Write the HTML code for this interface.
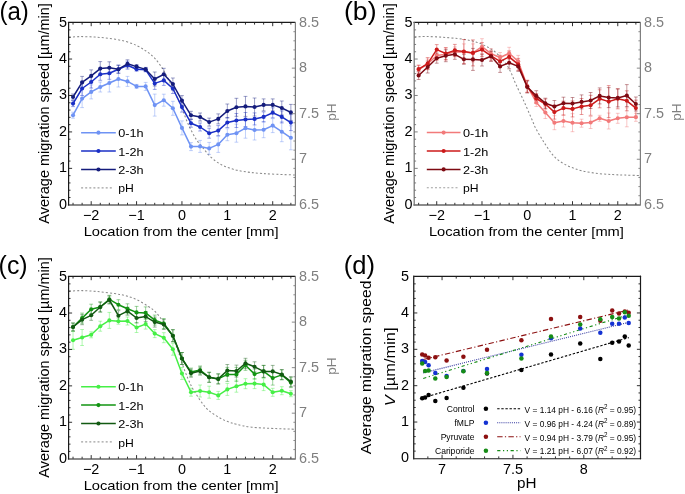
<!DOCTYPE html><html><head><meta charset="utf-8"><style>html,body{margin:0;padding:0;background:#fff;}svg{display:block;will-change:transform;}text{font-family:"Liberation Sans", sans-serif;}</style></head><body>
<svg width="685" height="494" viewBox="0 0 685 494">
<rect width="685" height="494" fill="#fff"/>
<path d="M69,37.4 C70.83,37.27 75.67,36.65 80,36.6 C84.33,36.55 90,36.78 95,37.1 C100,37.42 105,37.8 110,38.5 C115,39.2 120.5,40.1 125,41.3 C129.5,42.5 133.5,44.08 137,45.7 C140.5,47.32 143.17,49.03 146,51 C148.83,52.97 151.5,54.95 154,57.5 C156.5,60.05 158.75,62.97 161,66.3 C163.25,69.63 165.33,73.38 167.5,77.5 C169.67,81.62 171.75,86.33 174,91 C176.25,95.67 179.17,101.28 181,105.5 C182.83,109.72 183.75,113.07 185,116.3 C186.25,119.53 187.2,122.05 188.5,124.9 C189.8,127.75 191.38,130.8 192.8,133.4 C194.22,136 195.35,138.13 197,140.5 C198.65,142.87 200.8,145.25 202.7,147.6 C204.6,149.95 206.27,152.37 208.4,154.6 C210.53,156.83 213.13,159.22 215.5,161 C217.87,162.78 220.25,164.12 222.6,165.3 C224.95,166.48 227,167.23 229.6,168.1 C232.2,168.97 234.8,169.78 238.2,170.5 C241.6,171.22 246.03,171.9 250,172.4 C253.97,172.9 257.5,173.18 262,173.5 C266.5,173.82 271.5,174.05 277,174.3 C282.5,174.55 292,174.88 295,175" fill="none" stroke="#8a8a8a" stroke-width="1.05" stroke-dasharray="2,2.1"/>
<path d="M73.04,112.2V118.2M71.14,112.2H74.94M71.14,118.2H74.94M82.11,89.6V107.6M80.21,89.6H84.01M80.21,107.6H84.01M91.19,84.9V98.9M89.29,84.9H93.09M89.29,98.9H93.09M100.27,82V92M98.37,82H102.17M98.37,92H102.17M109.34,74V92M107.44,74H111.24M107.44,92H111.24M118.42,71V87M116.52,71H120.32M116.52,87H120.32M127.49,76.4V86.4M125.59,76.4H129.39M125.59,86.4H129.39M136.57,84.4V88.4M134.67,84.4H138.47M134.67,88.4H138.47M145.65,82.4V90.4M143.75,82.4H147.55M143.75,90.4H147.55M154.72,94.1V116.1M152.82,94.1H156.62M152.82,116.1H156.62M163.8,94.2V106.2M161.9,94.2H165.7M161.9,106.2H165.7M172.87,101.3V115.3M170.97,101.3H174.77M170.97,115.3H174.77M181.95,120.9V134.9M180.05,120.9H183.85M180.05,134.9H183.85M191.03,142.6V150.6M189.13,142.6H192.93M189.13,150.6H192.93M200.1,140.4V152.4M198.2,140.4H202M198.2,152.4H202M209.18,142.4V154.4M207.28,142.4H211.08M207.28,154.4H211.08M218.25,136.4V152.4M216.35,136.4H220.15M216.35,152.4H220.15M227.33,128.7V140.7M225.43,128.7H229.23M225.43,140.7H229.23M236.41,124.2V142.2M234.51,124.2H238.31M234.51,142.2H238.31M245.48,118.2V138.2M243.58,118.2H247.38M243.58,138.2H247.38M254.56,120V140M252.66,120H256.46M252.66,140H256.46M263.63,121.7V137.7M261.73,121.7H265.53M261.73,137.7H265.53M272.71,118.6V132.6M270.81,118.6H274.61M270.81,132.6H274.61M281.79,121.7V141.7M279.89,121.7H283.69M279.89,141.7H283.69M290.86,125.8V149.8M288.96,125.8H292.76M288.96,149.8H292.76" stroke="#6f93f4" stroke-opacity="0.5" stroke-width="0.85" fill="none"/>
<path d="M73.04,100.6V106.6M71.14,100.6H74.94M71.14,106.6H74.94M82.11,81.5V95.5M80.21,81.5H84.01M80.21,95.5H84.01M91.19,76V88M89.29,76H93.09M89.29,88H93.09M100.27,68.3V80.3M98.37,68.3H102.17M98.37,80.3H102.17M109.34,67.3V79.3M107.44,67.3H111.24M107.44,79.3H111.24M118.42,65.2V73.2M116.52,65.2H120.32M116.52,73.2H120.32M127.49,61.2V69.2M125.59,61.2H129.39M125.59,69.2H129.39M136.57,67.2V71.2M134.67,67.2H138.47M134.67,71.2H138.47M145.65,67.8V71.8M143.75,67.8H147.55M143.75,71.8H147.55M154.72,77.4V89.4M152.82,77.4H156.62M152.82,89.4H156.62M163.8,75.4V85.4M161.9,75.4H165.7M161.9,85.4H165.7M172.87,83.5V93.5M170.97,83.5H174.77M170.97,93.5H174.77M181.95,102.1V112.1M180.05,102.1H183.85M180.05,112.1H183.85M191.03,119.2V127.2M189.13,119.2H192.93M189.13,127.2H192.93M200.1,123V131M198.2,123H202M198.2,131H202M209.18,128.2V138.2M207.28,128.2H211.08M207.28,138.2H211.08M218.25,125.6V135.6M216.35,125.6H220.15M216.35,135.6H220.15M227.33,117.5V127.5M225.43,117.5H229.23M225.43,127.5H229.23M236.41,113.5V127.5M234.51,113.5H238.31M234.51,127.5H238.31M245.48,112.5V126.5M243.58,112.5H247.38M243.58,126.5H247.38M254.56,112.9V124.9M252.66,112.9H256.46M252.66,124.9H256.46M263.63,111.9V121.9M261.73,111.9H265.53M261.73,121.9H265.53M272.71,107.8V117.8M270.81,107.8H274.61M270.81,117.8H274.61M281.79,110.9V122.9M279.89,110.9H283.69M279.89,122.9H283.69M290.86,114.6V130.6M288.96,114.6H292.76M288.96,130.6H292.76" stroke="#1a2fc6" stroke-opacity="0.5" stroke-width="0.85" fill="none"/>
<path d="M73.04,94V100M71.14,94H74.94M71.14,100H74.94M82.11,76.4V88.4M80.21,76.4H84.01M80.21,88.4H84.01M91.19,69.9V81.9M89.29,69.9H93.09M89.29,81.9H93.09M100.27,61.6V75.6M98.37,61.6H102.17M98.37,75.6H102.17M109.34,61.8V73.8M107.44,61.8H111.24M107.44,73.8H111.24M118.42,65.2V73.2M116.52,65.2H120.32M116.52,73.2H120.32M127.49,59.8V67.8M125.59,59.8H129.39M125.59,67.8H129.39M136.57,64.6V68.6M134.67,64.6H138.47M134.67,68.6H138.47M145.65,67.4V71.4M143.75,67.4H147.55M143.75,71.4H147.55M154.72,72V86M152.82,72H156.62M152.82,86H156.62M163.8,68.3V80.3M161.9,68.3H165.7M161.9,80.3H165.7M172.87,78V90M170.97,78H174.77M170.97,90H174.77M181.95,95.6V105.6M180.05,95.6H183.85M180.05,105.6H183.85M191.03,111.3V119.3M189.13,111.3H192.93M189.13,119.3H192.93M200.1,113V121M198.2,113H202M198.2,121H202M209.18,118.1V126.1M207.28,118.1H211.08M207.28,126.1H211.08M218.25,113.9V123.9M216.35,113.9H220.15M216.35,123.9H220.15M227.33,104V118M225.43,104H229.23M225.43,118H229.23M236.41,98.3V116.3M234.51,98.3H238.31M234.51,116.3H238.31M245.48,96.4V116.4M243.58,96.4H247.38M243.58,116.4H247.38M254.56,98V116M252.66,98H256.46M252.66,116H256.46M263.63,98.9V110.9M261.73,98.9H265.53M261.73,110.9H265.53M272.71,98.9V110.9M270.81,98.9H274.61M270.81,110.9H274.61M281.79,101V115M279.89,101H283.69M279.89,115H283.69M290.86,104.4V120.4M288.96,104.4H292.76M288.96,120.4H292.76" stroke="#141c7c" stroke-opacity="0.5" stroke-width="0.85" fill="none"/>
<polyline points="73.04,115.2 82.11,98.6 91.19,91.9 100.27,87 109.34,83 118.42,79 127.49,81.4 136.57,86.4 145.65,86.4 154.72,105.1 163.8,100.2 172.87,108.3 181.95,127.9 191.03,146.6 200.1,146.4 209.18,148.4 218.25,144.4 227.33,134.7 236.41,133.2 245.48,128.2 254.56,130 263.63,129.7 272.71,125.6 281.79,131.7 290.86,137.8" fill="none" stroke="#6f93f4" stroke-width="1.5" stroke-linejoin="round"/>
<circle cx="73.04" cy="115.2" r="2.05" fill="#6f93f4"/>
<circle cx="82.11" cy="98.6" r="2.05" fill="#6f93f4"/>
<circle cx="91.19" cy="91.9" r="2.05" fill="#6f93f4"/>
<circle cx="100.27" cy="87" r="2.05" fill="#6f93f4"/>
<circle cx="109.34" cy="83" r="2.05" fill="#6f93f4"/>
<circle cx="118.42" cy="79" r="2.05" fill="#6f93f4"/>
<circle cx="127.49" cy="81.4" r="2.05" fill="#6f93f4"/>
<circle cx="136.57" cy="86.4" r="2.05" fill="#6f93f4"/>
<circle cx="145.65" cy="86.4" r="2.05" fill="#6f93f4"/>
<circle cx="154.72" cy="105.1" r="2.05" fill="#6f93f4"/>
<circle cx="163.8" cy="100.2" r="2.05" fill="#6f93f4"/>
<circle cx="172.87" cy="108.3" r="2.05" fill="#6f93f4"/>
<circle cx="181.95" cy="127.9" r="2.05" fill="#6f93f4"/>
<circle cx="191.03" cy="146.6" r="2.05" fill="#6f93f4"/>
<circle cx="200.1" cy="146.4" r="2.05" fill="#6f93f4"/>
<circle cx="209.18" cy="148.4" r="2.05" fill="#6f93f4"/>
<circle cx="218.25" cy="144.4" r="2.05" fill="#6f93f4"/>
<circle cx="227.33" cy="134.7" r="2.05" fill="#6f93f4"/>
<circle cx="236.41" cy="133.2" r="2.05" fill="#6f93f4"/>
<circle cx="245.48" cy="128.2" r="2.05" fill="#6f93f4"/>
<circle cx="254.56" cy="130" r="2.05" fill="#6f93f4"/>
<circle cx="263.63" cy="129.7" r="2.05" fill="#6f93f4"/>
<circle cx="272.71" cy="125.6" r="2.05" fill="#6f93f4"/>
<circle cx="281.79" cy="131.7" r="2.05" fill="#6f93f4"/>
<circle cx="290.86" cy="137.8" r="2.05" fill="#6f93f4"/>
<polyline points="73.04,103.6 82.11,88.5 91.19,82 100.27,74.3 109.34,73.3 118.42,69.2 127.49,65.2 136.57,69.2 145.65,69.8 154.72,83.4 163.8,80.4 172.87,88.5 181.95,107.1 191.03,123.2 200.1,127 209.18,133.2 218.25,130.6 227.33,122.5 236.41,120.5 245.48,119.5 254.56,118.9 263.63,116.9 272.71,112.8 281.79,116.9 290.86,122.6" fill="none" stroke="#1a2fc6" stroke-width="1.5" stroke-linejoin="round"/>
<circle cx="73.04" cy="103.6" r="2.05" fill="#1a2fc6"/>
<circle cx="82.11" cy="88.5" r="2.05" fill="#1a2fc6"/>
<circle cx="91.19" cy="82" r="2.05" fill="#1a2fc6"/>
<circle cx="100.27" cy="74.3" r="2.05" fill="#1a2fc6"/>
<circle cx="109.34" cy="73.3" r="2.05" fill="#1a2fc6"/>
<circle cx="118.42" cy="69.2" r="2.05" fill="#1a2fc6"/>
<circle cx="127.49" cy="65.2" r="2.05" fill="#1a2fc6"/>
<circle cx="136.57" cy="69.2" r="2.05" fill="#1a2fc6"/>
<circle cx="145.65" cy="69.8" r="2.05" fill="#1a2fc6"/>
<circle cx="154.72" cy="83.4" r="2.05" fill="#1a2fc6"/>
<circle cx="163.8" cy="80.4" r="2.05" fill="#1a2fc6"/>
<circle cx="172.87" cy="88.5" r="2.05" fill="#1a2fc6"/>
<circle cx="181.95" cy="107.1" r="2.05" fill="#1a2fc6"/>
<circle cx="191.03" cy="123.2" r="2.05" fill="#1a2fc6"/>
<circle cx="200.1" cy="127" r="2.05" fill="#1a2fc6"/>
<circle cx="209.18" cy="133.2" r="2.05" fill="#1a2fc6"/>
<circle cx="218.25" cy="130.6" r="2.05" fill="#1a2fc6"/>
<circle cx="227.33" cy="122.5" r="2.05" fill="#1a2fc6"/>
<circle cx="236.41" cy="120.5" r="2.05" fill="#1a2fc6"/>
<circle cx="245.48" cy="119.5" r="2.05" fill="#1a2fc6"/>
<circle cx="254.56" cy="118.9" r="2.05" fill="#1a2fc6"/>
<circle cx="263.63" cy="116.9" r="2.05" fill="#1a2fc6"/>
<circle cx="272.71" cy="112.8" r="2.05" fill="#1a2fc6"/>
<circle cx="281.79" cy="116.9" r="2.05" fill="#1a2fc6"/>
<circle cx="290.86" cy="122.6" r="2.05" fill="#1a2fc6"/>
<polyline points="73.04,97 82.11,82.4 91.19,75.9 100.27,68.6 109.34,67.8 118.42,69.2 127.49,63.8 136.57,66.6 145.65,69.4 154.72,79 163.8,74.3 172.87,84 181.95,100.6 191.03,115.3 200.1,117 209.18,122.1 218.25,118.9 227.33,111 236.41,107.3 245.48,106.4 254.56,107 263.63,104.9 272.71,104.9 281.79,108 290.86,112.4" fill="none" stroke="#141c7c" stroke-width="1.5" stroke-linejoin="round"/>
<circle cx="73.04" cy="97" r="2.05" fill="#141c7c"/>
<circle cx="82.11" cy="82.4" r="2.05" fill="#141c7c"/>
<circle cx="91.19" cy="75.9" r="2.05" fill="#141c7c"/>
<circle cx="100.27" cy="68.6" r="2.05" fill="#141c7c"/>
<circle cx="109.34" cy="67.8" r="2.05" fill="#141c7c"/>
<circle cx="118.42" cy="69.2" r="2.05" fill="#141c7c"/>
<circle cx="127.49" cy="63.8" r="2.05" fill="#141c7c"/>
<circle cx="136.57" cy="66.6" r="2.05" fill="#141c7c"/>
<circle cx="145.65" cy="69.4" r="2.05" fill="#141c7c"/>
<circle cx="154.72" cy="79" r="2.05" fill="#141c7c"/>
<circle cx="163.8" cy="74.3" r="2.05" fill="#141c7c"/>
<circle cx="172.87" cy="84" r="2.05" fill="#141c7c"/>
<circle cx="181.95" cy="100.6" r="2.05" fill="#141c7c"/>
<circle cx="191.03" cy="115.3" r="2.05" fill="#141c7c"/>
<circle cx="200.1" cy="117" r="2.05" fill="#141c7c"/>
<circle cx="209.18" cy="122.1" r="2.05" fill="#141c7c"/>
<circle cx="218.25" cy="118.9" r="2.05" fill="#141c7c"/>
<circle cx="227.33" cy="111" r="2.05" fill="#141c7c"/>
<circle cx="236.41" cy="107.3" r="2.05" fill="#141c7c"/>
<circle cx="245.48" cy="106.4" r="2.05" fill="#141c7c"/>
<circle cx="254.56" cy="107" r="2.05" fill="#141c7c"/>
<circle cx="263.63" cy="104.9" r="2.05" fill="#141c7c"/>
<circle cx="272.71" cy="104.9" r="2.05" fill="#141c7c"/>
<circle cx="281.79" cy="108" r="2.05" fill="#141c7c"/>
<circle cx="290.86" cy="112.4" r="2.05" fill="#141c7c"/>
<line x1="73.04" y1="204.8" x2="73.04" y2="202.8" stroke="#1a1a1a" stroke-width="0.9"/>
<line x1="73.04" y1="22.6" x2="73.04" y2="24.6" stroke="#1a1a1a" stroke-width="0.9"/>
<line x1="82.11" y1="204.8" x2="82.11" y2="202.8" stroke="#1a1a1a" stroke-width="0.9"/>
<line x1="82.11" y1="22.6" x2="82.11" y2="24.6" stroke="#1a1a1a" stroke-width="0.9"/>
<line x1="91.19" y1="204.8" x2="91.19" y2="201.2" stroke="#1a1a1a" stroke-width="0.9"/>
<line x1="91.19" y1="22.6" x2="91.19" y2="26.2" stroke="#1a1a1a" stroke-width="0.9"/>
<line x1="100.27" y1="204.8" x2="100.27" y2="202.8" stroke="#1a1a1a" stroke-width="0.9"/>
<line x1="100.27" y1="22.6" x2="100.27" y2="24.6" stroke="#1a1a1a" stroke-width="0.9"/>
<line x1="109.34" y1="204.8" x2="109.34" y2="202.8" stroke="#1a1a1a" stroke-width="0.9"/>
<line x1="109.34" y1="22.6" x2="109.34" y2="24.6" stroke="#1a1a1a" stroke-width="0.9"/>
<line x1="118.42" y1="204.8" x2="118.42" y2="202.8" stroke="#1a1a1a" stroke-width="0.9"/>
<line x1="118.42" y1="22.6" x2="118.42" y2="24.6" stroke="#1a1a1a" stroke-width="0.9"/>
<line x1="127.49" y1="204.8" x2="127.49" y2="202.8" stroke="#1a1a1a" stroke-width="0.9"/>
<line x1="127.49" y1="22.6" x2="127.49" y2="24.6" stroke="#1a1a1a" stroke-width="0.9"/>
<line x1="136.57" y1="204.8" x2="136.57" y2="201.2" stroke="#1a1a1a" stroke-width="0.9"/>
<line x1="136.57" y1="22.6" x2="136.57" y2="26.2" stroke="#1a1a1a" stroke-width="0.9"/>
<line x1="145.65" y1="204.8" x2="145.65" y2="202.8" stroke="#1a1a1a" stroke-width="0.9"/>
<line x1="145.65" y1="22.6" x2="145.65" y2="24.6" stroke="#1a1a1a" stroke-width="0.9"/>
<line x1="154.72" y1="204.8" x2="154.72" y2="202.8" stroke="#1a1a1a" stroke-width="0.9"/>
<line x1="154.72" y1="22.6" x2="154.72" y2="24.6" stroke="#1a1a1a" stroke-width="0.9"/>
<line x1="163.8" y1="204.8" x2="163.8" y2="202.8" stroke="#1a1a1a" stroke-width="0.9"/>
<line x1="163.8" y1="22.6" x2="163.8" y2="24.6" stroke="#1a1a1a" stroke-width="0.9"/>
<line x1="172.87" y1="204.8" x2="172.87" y2="202.8" stroke="#1a1a1a" stroke-width="0.9"/>
<line x1="172.87" y1="22.6" x2="172.87" y2="24.6" stroke="#1a1a1a" stroke-width="0.9"/>
<line x1="181.95" y1="204.8" x2="181.95" y2="201.2" stroke="#1a1a1a" stroke-width="0.9"/>
<line x1="181.95" y1="22.6" x2="181.95" y2="26.2" stroke="#1a1a1a" stroke-width="0.9"/>
<line x1="191.03" y1="204.8" x2="191.03" y2="202.8" stroke="#1a1a1a" stroke-width="0.9"/>
<line x1="191.03" y1="22.6" x2="191.03" y2="24.6" stroke="#1a1a1a" stroke-width="0.9"/>
<line x1="200.1" y1="204.8" x2="200.1" y2="202.8" stroke="#1a1a1a" stroke-width="0.9"/>
<line x1="200.1" y1="22.6" x2="200.1" y2="24.6" stroke="#1a1a1a" stroke-width="0.9"/>
<line x1="209.18" y1="204.8" x2="209.18" y2="202.8" stroke="#1a1a1a" stroke-width="0.9"/>
<line x1="209.18" y1="22.6" x2="209.18" y2="24.6" stroke="#1a1a1a" stroke-width="0.9"/>
<line x1="218.25" y1="204.8" x2="218.25" y2="202.8" stroke="#1a1a1a" stroke-width="0.9"/>
<line x1="218.25" y1="22.6" x2="218.25" y2="24.6" stroke="#1a1a1a" stroke-width="0.9"/>
<line x1="227.33" y1="204.8" x2="227.33" y2="201.2" stroke="#1a1a1a" stroke-width="0.9"/>
<line x1="227.33" y1="22.6" x2="227.33" y2="26.2" stroke="#1a1a1a" stroke-width="0.9"/>
<line x1="236.41" y1="204.8" x2="236.41" y2="202.8" stroke="#1a1a1a" stroke-width="0.9"/>
<line x1="236.41" y1="22.6" x2="236.41" y2="24.6" stroke="#1a1a1a" stroke-width="0.9"/>
<line x1="245.48" y1="204.8" x2="245.48" y2="202.8" stroke="#1a1a1a" stroke-width="0.9"/>
<line x1="245.48" y1="22.6" x2="245.48" y2="24.6" stroke="#1a1a1a" stroke-width="0.9"/>
<line x1="254.56" y1="204.8" x2="254.56" y2="202.8" stroke="#1a1a1a" stroke-width="0.9"/>
<line x1="254.56" y1="22.6" x2="254.56" y2="24.6" stroke="#1a1a1a" stroke-width="0.9"/>
<line x1="263.63" y1="204.8" x2="263.63" y2="202.8" stroke="#1a1a1a" stroke-width="0.9"/>
<line x1="263.63" y1="22.6" x2="263.63" y2="24.6" stroke="#1a1a1a" stroke-width="0.9"/>
<line x1="272.71" y1="204.8" x2="272.71" y2="201.2" stroke="#1a1a1a" stroke-width="0.9"/>
<line x1="272.71" y1="22.6" x2="272.71" y2="26.2" stroke="#1a1a1a" stroke-width="0.9"/>
<line x1="281.79" y1="204.8" x2="281.79" y2="202.8" stroke="#1a1a1a" stroke-width="0.9"/>
<line x1="281.79" y1="22.6" x2="281.79" y2="24.6" stroke="#1a1a1a" stroke-width="0.9"/>
<line x1="290.86" y1="204.8" x2="290.86" y2="202.8" stroke="#1a1a1a" stroke-width="0.9"/>
<line x1="290.86" y1="22.6" x2="290.86" y2="24.6" stroke="#1a1a1a" stroke-width="0.9"/>
<line x1="68.5" y1="197.51" x2="70.5" y2="197.51" stroke="#1a1a1a" stroke-width="0.9"/>
<line x1="68.5" y1="190.22" x2="70.5" y2="190.22" stroke="#1a1a1a" stroke-width="0.9"/>
<line x1="68.5" y1="182.94" x2="70.5" y2="182.94" stroke="#1a1a1a" stroke-width="0.9"/>
<line x1="68.5" y1="175.65" x2="70.5" y2="175.65" stroke="#1a1a1a" stroke-width="0.9"/>
<line x1="68.5" y1="168.36" x2="72.1" y2="168.36" stroke="#1a1a1a" stroke-width="0.9"/>
<line x1="68.5" y1="161.07" x2="70.5" y2="161.07" stroke="#1a1a1a" stroke-width="0.9"/>
<line x1="68.5" y1="153.78" x2="70.5" y2="153.78" stroke="#1a1a1a" stroke-width="0.9"/>
<line x1="68.5" y1="146.5" x2="70.5" y2="146.5" stroke="#1a1a1a" stroke-width="0.9"/>
<line x1="68.5" y1="139.21" x2="70.5" y2="139.21" stroke="#1a1a1a" stroke-width="0.9"/>
<line x1="68.5" y1="131.92" x2="72.1" y2="131.92" stroke="#1a1a1a" stroke-width="0.9"/>
<line x1="68.5" y1="124.63" x2="70.5" y2="124.63" stroke="#1a1a1a" stroke-width="0.9"/>
<line x1="68.5" y1="117.34" x2="70.5" y2="117.34" stroke="#1a1a1a" stroke-width="0.9"/>
<line x1="68.5" y1="110.06" x2="70.5" y2="110.06" stroke="#1a1a1a" stroke-width="0.9"/>
<line x1="68.5" y1="102.77" x2="70.5" y2="102.77" stroke="#1a1a1a" stroke-width="0.9"/>
<line x1="68.5" y1="95.48" x2="72.1" y2="95.48" stroke="#1a1a1a" stroke-width="0.9"/>
<line x1="68.5" y1="88.19" x2="70.5" y2="88.19" stroke="#1a1a1a" stroke-width="0.9"/>
<line x1="68.5" y1="80.9" x2="70.5" y2="80.9" stroke="#1a1a1a" stroke-width="0.9"/>
<line x1="68.5" y1="73.62" x2="70.5" y2="73.62" stroke="#1a1a1a" stroke-width="0.9"/>
<line x1="68.5" y1="66.33" x2="70.5" y2="66.33" stroke="#1a1a1a" stroke-width="0.9"/>
<line x1="68.5" y1="59.04" x2="72.1" y2="59.04" stroke="#1a1a1a" stroke-width="0.9"/>
<line x1="68.5" y1="51.75" x2="70.5" y2="51.75" stroke="#1a1a1a" stroke-width="0.9"/>
<line x1="68.5" y1="44.46" x2="70.5" y2="44.46" stroke="#1a1a1a" stroke-width="0.9"/>
<line x1="68.5" y1="37.18" x2="70.5" y2="37.18" stroke="#1a1a1a" stroke-width="0.9"/>
<line x1="68.5" y1="29.89" x2="70.5" y2="29.89" stroke="#1a1a1a" stroke-width="0.9"/>
<line x1="295.4" y1="195.69" x2="293.4" y2="195.69" stroke="#7f7f7f" stroke-width="0.9"/>
<line x1="295.4" y1="186.58" x2="293.4" y2="186.58" stroke="#7f7f7f" stroke-width="0.9"/>
<line x1="295.4" y1="177.47" x2="293.4" y2="177.47" stroke="#7f7f7f" stroke-width="0.9"/>
<line x1="295.4" y1="168.36" x2="293.4" y2="168.36" stroke="#7f7f7f" stroke-width="0.9"/>
<line x1="295.4" y1="159.25" x2="291.8" y2="159.25" stroke="#7f7f7f" stroke-width="0.9"/>
<line x1="295.4" y1="150.14" x2="293.4" y2="150.14" stroke="#7f7f7f" stroke-width="0.9"/>
<line x1="295.4" y1="141.03" x2="293.4" y2="141.03" stroke="#7f7f7f" stroke-width="0.9"/>
<line x1="295.4" y1="131.92" x2="293.4" y2="131.92" stroke="#7f7f7f" stroke-width="0.9"/>
<line x1="295.4" y1="122.81" x2="293.4" y2="122.81" stroke="#7f7f7f" stroke-width="0.9"/>
<line x1="295.4" y1="113.7" x2="291.8" y2="113.7" stroke="#7f7f7f" stroke-width="0.9"/>
<line x1="295.4" y1="104.59" x2="293.4" y2="104.59" stroke="#7f7f7f" stroke-width="0.9"/>
<line x1="295.4" y1="95.48" x2="293.4" y2="95.48" stroke="#7f7f7f" stroke-width="0.9"/>
<line x1="295.4" y1="86.37" x2="293.4" y2="86.37" stroke="#7f7f7f" stroke-width="0.9"/>
<line x1="295.4" y1="77.26" x2="293.4" y2="77.26" stroke="#7f7f7f" stroke-width="0.9"/>
<line x1="295.4" y1="68.15" x2="291.8" y2="68.15" stroke="#7f7f7f" stroke-width="0.9"/>
<line x1="295.4" y1="59.04" x2="293.4" y2="59.04" stroke="#7f7f7f" stroke-width="0.9"/>
<line x1="295.4" y1="49.93" x2="293.4" y2="49.93" stroke="#7f7f7f" stroke-width="0.9"/>
<line x1="295.4" y1="40.82" x2="293.4" y2="40.82" stroke="#7f7f7f" stroke-width="0.9"/>
<line x1="295.4" y1="31.71" x2="293.4" y2="31.71" stroke="#7f7f7f" stroke-width="0.9"/>
<line x1="67.9" y1="22.3" x2="295.4" y2="22.3" stroke="#1a1a1a" stroke-width="1.15"/>
<line x1="67.9" y1="205" x2="295.4" y2="205" stroke="#1a1a1a" stroke-width="1.1"/>
<line x1="68.6" y1="22" x2="68.6" y2="205.55" stroke="#1a1a1a" stroke-width="1.2"/>
<line x1="295.4" y1="22" x2="295.4" y2="205.55" stroke="#7f7f7f" stroke-width="1.2"/>
<text x="66.9" y="208.7" font-size="14.4" text-anchor="end" fill="#000">0</text>
<text x="66.9" y="172.26" font-size="14.4" text-anchor="end" fill="#000">1</text>
<text x="66.9" y="135.82" font-size="14.4" text-anchor="end" fill="#000">2</text>
<text x="66.9" y="99.38" font-size="14.4" text-anchor="end" fill="#000">3</text>
<text x="66.9" y="62.94" font-size="14.4" text-anchor="end" fill="#000">4</text>
<text x="66.9" y="26.5" font-size="14.4" text-anchor="end" fill="#000">5</text>
<text x="91.19" y="220.1" font-size="14.4" text-anchor="middle" fill="#000">−2</text>
<text x="136.57" y="220.1" font-size="14.4" text-anchor="middle" fill="#000">−1</text>
<text x="181.95" y="220.1" font-size="14.4" text-anchor="middle" fill="#000">0</text>
<text x="227.33" y="220.1" font-size="14.4" text-anchor="middle" fill="#000">1</text>
<text x="272.71" y="220.1" font-size="14.4" text-anchor="middle" fill="#000">2</text>
<text x="299" y="208.7" font-size="14.4" text-anchor="start" fill="#7f7f7f">6.5</text>
<text x="299" y="163.15" font-size="14.4" text-anchor="start" fill="#7f7f7f">7</text>
<text x="299" y="117.6" font-size="14.4" text-anchor="start" fill="#7f7f7f">7.5</text>
<text x="299" y="72.05" font-size="14.4" text-anchor="start" fill="#7f7f7f">8</text>
<text x="299" y="26.5" font-size="14.4" text-anchor="start" fill="#7f7f7f">8.5</text>
<text x="48.7" y="113.45" font-size="14" text-anchor="middle" fill="#000" textLength="220.6" lengthAdjust="spacingAndGlyphs" transform="rotate(-90 48.7 113.45)">Average migration speed [µm/min]</text>
<text x="335.6" y="112.1" font-size="13.5" text-anchor="middle" fill="#7f7f7f" transform="rotate(-90 335.6 112.1)">pH</text>
<text x="181.15" y="236" font-size="13.4" text-anchor="middle" fill="#000" textLength="195" lengthAdjust="spacingAndGlyphs">Location from the center [mm]</text>
<text x="-0.6" y="19.7" font-size="25.2" text-anchor="start" fill="#000" textLength="29.4" lengthAdjust="spacingAndGlyphs">(a)</text>
<line x1="81.1" y1="132.65" x2="115.8" y2="132.65" stroke="#6f93f4" stroke-width="1.5"/>
<circle cx="98.45" cy="132.65" r="2.05" fill="#6f93f4"/>
<text x="118.2" y="137.25" font-size="11.6" text-anchor="start" fill="#000" textLength="25.4" lengthAdjust="spacingAndGlyphs">0-1h</text>
<line x1="81.1" y1="151.05" x2="115.8" y2="151.05" stroke="#1a2fc6" stroke-width="1.5"/>
<circle cx="98.45" cy="151.05" r="2.05" fill="#1a2fc6"/>
<text x="118.2" y="155.65" font-size="11.6" text-anchor="start" fill="#000" textLength="25.4" lengthAdjust="spacingAndGlyphs">1-2h</text>
<line x1="81.1" y1="169.45" x2="115.8" y2="169.45" stroke="#141c7c" stroke-width="1.5"/>
<circle cx="98.45" cy="169.45" r="2.05" fill="#141c7c"/>
<text x="118.2" y="174.05" font-size="11.6" text-anchor="start" fill="#000" textLength="25.4" lengthAdjust="spacingAndGlyphs">2-3h</text>
<line x1="81.1" y1="187.85" x2="113.8" y2="187.85" stroke="#a0a0a0" stroke-width="1.1" stroke-dasharray="2,2.1"/>
<text x="118.2" y="192.45" font-size="11.6" text-anchor="start" fill="#000" textLength="15.6" lengthAdjust="spacingAndGlyphs">pH</text>
<path d="M414.5,37 C416.42,36.92 421.42,36.47 426,36.5 C430.58,36.53 436.67,36.85 442,37.2 C447.33,37.55 453.17,38.02 458,38.6 C462.83,39.18 467,39.75 471,40.7 C475,41.65 478.6,42.88 482,44.3 C485.4,45.72 488.67,47.42 491.4,49.2 C494.13,50.98 496.13,52.78 498.4,55 C500.67,57.22 502.98,59.75 505,62.5 C507.02,65.25 508.7,67.92 510.5,71.5 C512.3,75.08 513.58,79.08 515.8,84 C518.02,88.92 521.15,95.17 523.8,101 C526.45,106.83 529.7,114.42 531.7,119 C533.7,123.58 534.17,125.28 535.8,128.5 C537.43,131.72 539.7,135.33 541.5,138.3 C543.3,141.27 544.68,143.48 546.6,146.3 C548.52,149.12 550.77,152.68 553,155.2 C555.23,157.72 557.17,159.47 560,161.4 C562.83,163.33 566.33,165.23 570,166.8 C573.67,168.37 577.33,169.68 582,170.8 C586.67,171.92 592.83,172.87 598,173.5 C603.17,174.13 608.5,174.33 613,174.6 C617.5,174.87 620.5,174.95 625,175.1 C629.5,175.25 637.5,175.43 640,175.5" fill="none" stroke="#8a8a8a" stroke-width="1.05" stroke-dasharray="2,2.1"/>
<path d="M418.63,65.6V73.6M416.73,65.6H420.53M416.73,73.6H420.53M427.68,59V69M425.78,59H429.58M425.78,69H429.58M436.73,50.5V60.5M434.83,50.5H438.63M434.83,60.5H438.63M445.78,48.3V60.3M443.88,48.3H447.68M443.88,60.3H447.68M454.83,46.9V56.9M452.93,46.9H456.73M452.93,56.9H456.73M463.89,43.9V59.9M461.99,43.9H465.79M461.99,59.9H465.79M472.94,43.9V61.9M471.04,43.9H474.84M471.04,61.9H474.84M481.99,38.7V54.7M480.09,38.7H483.89M480.09,54.7H483.89M491.04,48.7V58.7M489.14,48.7H492.94M489.14,58.7H492.94M500.09,52.5V62.5M498.19,52.5H501.99M498.19,62.5H501.99M509.15,47.3V59.3M507.25,47.3H511.05M507.25,59.3H511.05M518.2,55.4V67.4M516.3,55.4H520.1M516.3,67.4H520.1M527.25,80V92M525.35,80H529.15M525.35,92H529.15M536.3,98.5V106.5M534.4,98.5H538.2M534.4,106.5H538.2M545.35,106.5V118.5M543.45,106.5H547.25M543.45,118.5H547.25M554.41,115.7V129.7M552.51,115.7H556.31M552.51,129.7H556.31M563.46,115V127M561.56,115H565.36M561.56,127H565.36M572.51,113.7V131.7M570.61,113.7H574.41M570.61,131.7H574.41M581.56,119.2V127.2M579.66,119.2H583.46M579.66,127.2H583.46M590.61,116.5V128.5M588.71,116.5H592.51M588.71,128.5H592.51M599.67,115.3V121.3M597.77,115.3H601.57M597.77,121.3H601.57M608.72,113V129M606.82,113H610.62M606.82,129H610.62M617.77,113.3V123.3M615.87,113.3H619.67M615.87,123.3H619.67M626.82,107.8V126.8M624.92,107.8H628.72M624.92,126.8H628.72M635.87,113.3V121.3M633.97,113.3H637.77M633.97,121.3H637.77" stroke="#f27a7a" stroke-opacity="0.5" stroke-width="0.85" fill="none"/>
<path d="M418.63,65.1V73.1M416.73,65.1H420.53M416.73,73.1H420.53M427.68,57.6V69.6M425.78,57.6H429.58M425.78,69.6H429.58M436.73,44.6V54.6M434.83,44.6H438.63M434.83,54.6H438.63M445.78,47.5V59.5M443.88,47.5H447.68M443.88,59.5H447.68M454.83,44.4V56.4M452.93,44.4H456.73M452.93,56.4H456.73M463.89,39.5V63.5M461.99,39.5H465.79M461.99,63.5H465.79M472.94,39.9V65.9M471.04,39.9H474.84M471.04,65.9H474.84M481.99,42.6V56.6M480.09,42.6H483.89M480.09,56.6H483.89M491.04,50.9V60.9M489.14,50.9H492.94M489.14,60.9H492.94M500.09,55.4V67.4M498.19,55.4H501.99M498.19,67.4H501.99M509.15,50.9V62.9M507.25,50.9H511.05M507.25,62.9H511.05M518.2,58.4V70.4M516.3,58.4H520.1M516.3,70.4H520.1M527.25,80.5V92.5M525.35,80.5H529.15M525.35,92.5H529.15M536.3,93.5V103.5M534.4,93.5H538.2M534.4,103.5H538.2M545.35,99V109M543.45,99H547.25M543.45,109H547.25M554.41,105.1V119.1M552.51,105.1H556.31M552.51,119.1H556.31M563.46,101.1V115.1M561.56,101.1H565.36M561.56,115.1H565.36M572.51,100.9V116.9M570.61,100.9H574.41M570.61,116.9H574.41M581.56,98.5V114.5M579.66,98.5H583.46M579.66,114.5H583.46M590.61,95.3V115.3M588.71,95.3H592.51M588.71,115.3H592.51M599.67,89.8V107.8M597.77,89.8H601.57M597.77,107.8H601.57M608.72,85.6V117.6M606.82,85.6H610.62M606.82,117.6H610.62M617.77,88.8V108.8M615.87,88.8H619.67M615.87,108.8H619.67M626.82,90.8V110.8M624.92,90.8H628.72M624.92,110.8H628.72M635.87,100.1V116.1M633.97,100.1H637.77M633.97,116.1H637.77" stroke="#cc1a1a" stroke-opacity="0.5" stroke-width="0.85" fill="none"/>
<path d="M418.63,71.5V79.5M416.73,71.5H420.53M416.73,79.5H420.53M427.68,61V73M425.78,61H429.58M425.78,73H429.58M436.73,53.2V63.2M434.83,53.2H438.63M434.83,63.2H438.63M445.78,49.7V61.7M443.88,49.7H447.68M443.88,61.7H447.68M454.83,49.3V59.3M452.93,49.3H456.73M452.93,59.3H456.73M463.89,54.3V64.3M461.99,54.3H465.79M461.99,64.3H465.79M472.94,48.4V70.4M471.04,48.4H474.84M471.04,70.4H474.84M481.99,54V66M480.09,54H483.89M480.09,66H483.89M491.04,51.3V61.3M489.14,51.3H492.94M489.14,61.3H492.94M500.09,60.4V72.4M498.19,60.4H501.99M498.19,72.4H501.99M509.15,56.8V68.8M507.25,56.8H511.05M507.25,68.8H511.05M518.2,61.4V71.4M516.3,61.4H520.1M516.3,71.4H520.1M527.25,81V93M525.35,81H529.15M525.35,93H529.15M536.3,90.7V100.7M534.4,90.7H538.2M534.4,100.7H538.2M545.35,98.2V108.2M543.45,98.2H547.25M543.45,108.2H547.25M554.41,100.5V112.5M552.51,100.5H556.31M552.51,112.5H556.31M563.46,97.2V109.2M561.56,97.2H565.36M561.56,109.2H565.36M572.51,97.5V109.5M570.61,97.5H574.41M570.61,109.5H574.41M581.56,94.9V108.9M579.66,94.9H583.46M579.66,108.9H583.46M590.61,92.5V108.5M588.71,92.5H592.51M588.71,108.5H592.51M599.67,87.9V103.9M597.77,87.9H601.57M597.77,103.9H601.57M608.72,87.6V107.6M606.82,87.6H610.62M606.82,107.6H610.62M617.77,88.9V106.9M615.87,88.9H619.67M615.87,106.9H619.67M626.82,84.6V106.6M624.92,84.6H628.72M624.92,106.6H628.72M635.87,97V111M633.97,97H637.77M633.97,111H637.77" stroke="#7e0a12" stroke-opacity="0.5" stroke-width="0.85" fill="none"/>
<polyline points="418.63,69.6 427.68,64 436.73,55.5 445.78,54.3 454.83,51.9 463.89,51.9 472.94,52.9 481.99,46.7 491.04,53.7 500.09,57.5 509.15,53.3 518.2,61.4 527.25,86 536.3,102.5 545.35,112.5 554.41,122.7 563.46,121 572.51,122.7 581.56,123.2 590.61,122.5 599.67,118.3 608.72,121 617.77,118.3 626.82,117.3 635.87,117.3" fill="none" stroke="#f27a7a" stroke-width="1.5" stroke-linejoin="round"/>
<circle cx="418.63" cy="69.6" r="2.05" fill="#f27a7a"/>
<circle cx="427.68" cy="64" r="2.05" fill="#f27a7a"/>
<circle cx="436.73" cy="55.5" r="2.05" fill="#f27a7a"/>
<circle cx="445.78" cy="54.3" r="2.05" fill="#f27a7a"/>
<circle cx="454.83" cy="51.9" r="2.05" fill="#f27a7a"/>
<circle cx="463.89" cy="51.9" r="2.05" fill="#f27a7a"/>
<circle cx="472.94" cy="52.9" r="2.05" fill="#f27a7a"/>
<circle cx="481.99" cy="46.7" r="2.05" fill="#f27a7a"/>
<circle cx="491.04" cy="53.7" r="2.05" fill="#f27a7a"/>
<circle cx="500.09" cy="57.5" r="2.05" fill="#f27a7a"/>
<circle cx="509.15" cy="53.3" r="2.05" fill="#f27a7a"/>
<circle cx="518.2" cy="61.4" r="2.05" fill="#f27a7a"/>
<circle cx="527.25" cy="86" r="2.05" fill="#f27a7a"/>
<circle cx="536.3" cy="102.5" r="2.05" fill="#f27a7a"/>
<circle cx="545.35" cy="112.5" r="2.05" fill="#f27a7a"/>
<circle cx="554.41" cy="122.7" r="2.05" fill="#f27a7a"/>
<circle cx="563.46" cy="121" r="2.05" fill="#f27a7a"/>
<circle cx="572.51" cy="122.7" r="2.05" fill="#f27a7a"/>
<circle cx="581.56" cy="123.2" r="2.05" fill="#f27a7a"/>
<circle cx="590.61" cy="122.5" r="2.05" fill="#f27a7a"/>
<circle cx="599.67" cy="118.3" r="2.05" fill="#f27a7a"/>
<circle cx="608.72" cy="121" r="2.05" fill="#f27a7a"/>
<circle cx="617.77" cy="118.3" r="2.05" fill="#f27a7a"/>
<circle cx="626.82" cy="117.3" r="2.05" fill="#f27a7a"/>
<circle cx="635.87" cy="117.3" r="2.05" fill="#f27a7a"/>
<polyline points="418.63,69.1 427.68,63.6 436.73,49.6 445.78,53.5 454.83,50.4 463.89,51.5 472.94,52.9 481.99,49.6 491.04,55.9 500.09,61.4 509.15,56.9 518.2,64.4 527.25,86.5 536.3,98.5 545.35,104 554.41,112.1 563.46,108.1 572.51,108.9 581.56,106.5 590.61,105.3 599.67,98.8 608.72,101.6 617.77,98.8 626.82,100.8 635.87,108.1" fill="none" stroke="#cc1a1a" stroke-width="1.5" stroke-linejoin="round"/>
<circle cx="418.63" cy="69.1" r="2.05" fill="#cc1a1a"/>
<circle cx="427.68" cy="63.6" r="2.05" fill="#cc1a1a"/>
<circle cx="436.73" cy="49.6" r="2.05" fill="#cc1a1a"/>
<circle cx="445.78" cy="53.5" r="2.05" fill="#cc1a1a"/>
<circle cx="454.83" cy="50.4" r="2.05" fill="#cc1a1a"/>
<circle cx="463.89" cy="51.5" r="2.05" fill="#cc1a1a"/>
<circle cx="472.94" cy="52.9" r="2.05" fill="#cc1a1a"/>
<circle cx="481.99" cy="49.6" r="2.05" fill="#cc1a1a"/>
<circle cx="491.04" cy="55.9" r="2.05" fill="#cc1a1a"/>
<circle cx="500.09" cy="61.4" r="2.05" fill="#cc1a1a"/>
<circle cx="509.15" cy="56.9" r="2.05" fill="#cc1a1a"/>
<circle cx="518.2" cy="64.4" r="2.05" fill="#cc1a1a"/>
<circle cx="527.25" cy="86.5" r="2.05" fill="#cc1a1a"/>
<circle cx="536.3" cy="98.5" r="2.05" fill="#cc1a1a"/>
<circle cx="545.35" cy="104" r="2.05" fill="#cc1a1a"/>
<circle cx="554.41" cy="112.1" r="2.05" fill="#cc1a1a"/>
<circle cx="563.46" cy="108.1" r="2.05" fill="#cc1a1a"/>
<circle cx="572.51" cy="108.9" r="2.05" fill="#cc1a1a"/>
<circle cx="581.56" cy="106.5" r="2.05" fill="#cc1a1a"/>
<circle cx="590.61" cy="105.3" r="2.05" fill="#cc1a1a"/>
<circle cx="599.67" cy="98.8" r="2.05" fill="#cc1a1a"/>
<circle cx="608.72" cy="101.6" r="2.05" fill="#cc1a1a"/>
<circle cx="617.77" cy="98.8" r="2.05" fill="#cc1a1a"/>
<circle cx="626.82" cy="100.8" r="2.05" fill="#cc1a1a"/>
<circle cx="635.87" cy="108.1" r="2.05" fill="#cc1a1a"/>
<polyline points="418.63,75.5 427.68,67 436.73,58.2 445.78,55.7 454.83,54.3 463.89,59.3 472.94,59.4 481.99,60 491.04,56.3 500.09,66.4 509.15,62.8 518.2,66.4 527.25,87 536.3,95.7 545.35,103.2 554.41,106.5 563.46,103.2 572.51,103.5 581.56,101.9 590.61,100.5 599.67,95.9 608.72,97.6 617.77,97.9 626.82,95.6 635.87,104" fill="none" stroke="#7e0a12" stroke-width="1.5" stroke-linejoin="round"/>
<circle cx="418.63" cy="75.5" r="2.05" fill="#7e0a12"/>
<circle cx="427.68" cy="67" r="2.05" fill="#7e0a12"/>
<circle cx="436.73" cy="58.2" r="2.05" fill="#7e0a12"/>
<circle cx="445.78" cy="55.7" r="2.05" fill="#7e0a12"/>
<circle cx="454.83" cy="54.3" r="2.05" fill="#7e0a12"/>
<circle cx="463.89" cy="59.3" r="2.05" fill="#7e0a12"/>
<circle cx="472.94" cy="59.4" r="2.05" fill="#7e0a12"/>
<circle cx="481.99" cy="60" r="2.05" fill="#7e0a12"/>
<circle cx="491.04" cy="56.3" r="2.05" fill="#7e0a12"/>
<circle cx="500.09" cy="66.4" r="2.05" fill="#7e0a12"/>
<circle cx="509.15" cy="62.8" r="2.05" fill="#7e0a12"/>
<circle cx="518.2" cy="66.4" r="2.05" fill="#7e0a12"/>
<circle cx="527.25" cy="87" r="2.05" fill="#7e0a12"/>
<circle cx="536.3" cy="95.7" r="2.05" fill="#7e0a12"/>
<circle cx="545.35" cy="103.2" r="2.05" fill="#7e0a12"/>
<circle cx="554.41" cy="106.5" r="2.05" fill="#7e0a12"/>
<circle cx="563.46" cy="103.2" r="2.05" fill="#7e0a12"/>
<circle cx="572.51" cy="103.5" r="2.05" fill="#7e0a12"/>
<circle cx="581.56" cy="101.9" r="2.05" fill="#7e0a12"/>
<circle cx="590.61" cy="100.5" r="2.05" fill="#7e0a12"/>
<circle cx="599.67" cy="95.9" r="2.05" fill="#7e0a12"/>
<circle cx="608.72" cy="97.6" r="2.05" fill="#7e0a12"/>
<circle cx="617.77" cy="97.9" r="2.05" fill="#7e0a12"/>
<circle cx="626.82" cy="95.6" r="2.05" fill="#7e0a12"/>
<circle cx="635.87" cy="104" r="2.05" fill="#7e0a12"/>
<line x1="418.63" y1="204.8" x2="418.63" y2="202.8" stroke="#1a1a1a" stroke-width="0.9"/>
<line x1="418.63" y1="22.6" x2="418.63" y2="24.6" stroke="#1a1a1a" stroke-width="0.9"/>
<line x1="427.68" y1="204.8" x2="427.68" y2="202.8" stroke="#1a1a1a" stroke-width="0.9"/>
<line x1="427.68" y1="22.6" x2="427.68" y2="24.6" stroke="#1a1a1a" stroke-width="0.9"/>
<line x1="436.73" y1="204.8" x2="436.73" y2="201.2" stroke="#1a1a1a" stroke-width="0.9"/>
<line x1="436.73" y1="22.6" x2="436.73" y2="26.2" stroke="#1a1a1a" stroke-width="0.9"/>
<line x1="445.78" y1="204.8" x2="445.78" y2="202.8" stroke="#1a1a1a" stroke-width="0.9"/>
<line x1="445.78" y1="22.6" x2="445.78" y2="24.6" stroke="#1a1a1a" stroke-width="0.9"/>
<line x1="454.83" y1="204.8" x2="454.83" y2="202.8" stroke="#1a1a1a" stroke-width="0.9"/>
<line x1="454.83" y1="22.6" x2="454.83" y2="24.6" stroke="#1a1a1a" stroke-width="0.9"/>
<line x1="463.89" y1="204.8" x2="463.89" y2="202.8" stroke="#1a1a1a" stroke-width="0.9"/>
<line x1="463.89" y1="22.6" x2="463.89" y2="24.6" stroke="#1a1a1a" stroke-width="0.9"/>
<line x1="472.94" y1="204.8" x2="472.94" y2="202.8" stroke="#1a1a1a" stroke-width="0.9"/>
<line x1="472.94" y1="22.6" x2="472.94" y2="24.6" stroke="#1a1a1a" stroke-width="0.9"/>
<line x1="481.99" y1="204.8" x2="481.99" y2="201.2" stroke="#1a1a1a" stroke-width="0.9"/>
<line x1="481.99" y1="22.6" x2="481.99" y2="26.2" stroke="#1a1a1a" stroke-width="0.9"/>
<line x1="491.04" y1="204.8" x2="491.04" y2="202.8" stroke="#1a1a1a" stroke-width="0.9"/>
<line x1="491.04" y1="22.6" x2="491.04" y2="24.6" stroke="#1a1a1a" stroke-width="0.9"/>
<line x1="500.09" y1="204.8" x2="500.09" y2="202.8" stroke="#1a1a1a" stroke-width="0.9"/>
<line x1="500.09" y1="22.6" x2="500.09" y2="24.6" stroke="#1a1a1a" stroke-width="0.9"/>
<line x1="509.15" y1="204.8" x2="509.15" y2="202.8" stroke="#1a1a1a" stroke-width="0.9"/>
<line x1="509.15" y1="22.6" x2="509.15" y2="24.6" stroke="#1a1a1a" stroke-width="0.9"/>
<line x1="518.2" y1="204.8" x2="518.2" y2="202.8" stroke="#1a1a1a" stroke-width="0.9"/>
<line x1="518.2" y1="22.6" x2="518.2" y2="24.6" stroke="#1a1a1a" stroke-width="0.9"/>
<line x1="527.25" y1="204.8" x2="527.25" y2="201.2" stroke="#1a1a1a" stroke-width="0.9"/>
<line x1="527.25" y1="22.6" x2="527.25" y2="26.2" stroke="#1a1a1a" stroke-width="0.9"/>
<line x1="536.3" y1="204.8" x2="536.3" y2="202.8" stroke="#1a1a1a" stroke-width="0.9"/>
<line x1="536.3" y1="22.6" x2="536.3" y2="24.6" stroke="#1a1a1a" stroke-width="0.9"/>
<line x1="545.35" y1="204.8" x2="545.35" y2="202.8" stroke="#1a1a1a" stroke-width="0.9"/>
<line x1="545.35" y1="22.6" x2="545.35" y2="24.6" stroke="#1a1a1a" stroke-width="0.9"/>
<line x1="554.41" y1="204.8" x2="554.41" y2="202.8" stroke="#1a1a1a" stroke-width="0.9"/>
<line x1="554.41" y1="22.6" x2="554.41" y2="24.6" stroke="#1a1a1a" stroke-width="0.9"/>
<line x1="563.46" y1="204.8" x2="563.46" y2="202.8" stroke="#1a1a1a" stroke-width="0.9"/>
<line x1="563.46" y1="22.6" x2="563.46" y2="24.6" stroke="#1a1a1a" stroke-width="0.9"/>
<line x1="572.51" y1="204.8" x2="572.51" y2="201.2" stroke="#1a1a1a" stroke-width="0.9"/>
<line x1="572.51" y1="22.6" x2="572.51" y2="26.2" stroke="#1a1a1a" stroke-width="0.9"/>
<line x1="581.56" y1="204.8" x2="581.56" y2="202.8" stroke="#1a1a1a" stroke-width="0.9"/>
<line x1="581.56" y1="22.6" x2="581.56" y2="24.6" stroke="#1a1a1a" stroke-width="0.9"/>
<line x1="590.61" y1="204.8" x2="590.61" y2="202.8" stroke="#1a1a1a" stroke-width="0.9"/>
<line x1="590.61" y1="22.6" x2="590.61" y2="24.6" stroke="#1a1a1a" stroke-width="0.9"/>
<line x1="599.67" y1="204.8" x2="599.67" y2="202.8" stroke="#1a1a1a" stroke-width="0.9"/>
<line x1="599.67" y1="22.6" x2="599.67" y2="24.6" stroke="#1a1a1a" stroke-width="0.9"/>
<line x1="608.72" y1="204.8" x2="608.72" y2="202.8" stroke="#1a1a1a" stroke-width="0.9"/>
<line x1="608.72" y1="22.6" x2="608.72" y2="24.6" stroke="#1a1a1a" stroke-width="0.9"/>
<line x1="617.77" y1="204.8" x2="617.77" y2="201.2" stroke="#1a1a1a" stroke-width="0.9"/>
<line x1="617.77" y1="22.6" x2="617.77" y2="26.2" stroke="#1a1a1a" stroke-width="0.9"/>
<line x1="626.82" y1="204.8" x2="626.82" y2="202.8" stroke="#1a1a1a" stroke-width="0.9"/>
<line x1="626.82" y1="22.6" x2="626.82" y2="24.6" stroke="#1a1a1a" stroke-width="0.9"/>
<line x1="635.87" y1="204.8" x2="635.87" y2="202.8" stroke="#1a1a1a" stroke-width="0.9"/>
<line x1="635.87" y1="22.6" x2="635.87" y2="24.6" stroke="#1a1a1a" stroke-width="0.9"/>
<line x1="414.1" y1="197.51" x2="416.1" y2="197.51" stroke="#707070" stroke-width="0.9"/>
<line x1="414.1" y1="190.22" x2="416.1" y2="190.22" stroke="#707070" stroke-width="0.9"/>
<line x1="414.1" y1="182.94" x2="416.1" y2="182.94" stroke="#707070" stroke-width="0.9"/>
<line x1="414.1" y1="175.65" x2="416.1" y2="175.65" stroke="#707070" stroke-width="0.9"/>
<line x1="414.1" y1="168.36" x2="417.7" y2="168.36" stroke="#707070" stroke-width="0.9"/>
<line x1="414.1" y1="161.07" x2="416.1" y2="161.07" stroke="#707070" stroke-width="0.9"/>
<line x1="414.1" y1="153.78" x2="416.1" y2="153.78" stroke="#707070" stroke-width="0.9"/>
<line x1="414.1" y1="146.5" x2="416.1" y2="146.5" stroke="#707070" stroke-width="0.9"/>
<line x1="414.1" y1="139.21" x2="416.1" y2="139.21" stroke="#707070" stroke-width="0.9"/>
<line x1="414.1" y1="131.92" x2="417.7" y2="131.92" stroke="#707070" stroke-width="0.9"/>
<line x1="414.1" y1="124.63" x2="416.1" y2="124.63" stroke="#707070" stroke-width="0.9"/>
<line x1="414.1" y1="117.34" x2="416.1" y2="117.34" stroke="#707070" stroke-width="0.9"/>
<line x1="414.1" y1="110.06" x2="416.1" y2="110.06" stroke="#707070" stroke-width="0.9"/>
<line x1="414.1" y1="102.77" x2="416.1" y2="102.77" stroke="#707070" stroke-width="0.9"/>
<line x1="414.1" y1="95.48" x2="417.7" y2="95.48" stroke="#707070" stroke-width="0.9"/>
<line x1="414.1" y1="88.19" x2="416.1" y2="88.19" stroke="#707070" stroke-width="0.9"/>
<line x1="414.1" y1="80.9" x2="416.1" y2="80.9" stroke="#707070" stroke-width="0.9"/>
<line x1="414.1" y1="73.62" x2="416.1" y2="73.62" stroke="#707070" stroke-width="0.9"/>
<line x1="414.1" y1="66.33" x2="416.1" y2="66.33" stroke="#707070" stroke-width="0.9"/>
<line x1="414.1" y1="59.04" x2="417.7" y2="59.04" stroke="#707070" stroke-width="0.9"/>
<line x1="414.1" y1="51.75" x2="416.1" y2="51.75" stroke="#707070" stroke-width="0.9"/>
<line x1="414.1" y1="44.46" x2="416.1" y2="44.46" stroke="#707070" stroke-width="0.9"/>
<line x1="414.1" y1="37.18" x2="416.1" y2="37.18" stroke="#707070" stroke-width="0.9"/>
<line x1="414.1" y1="29.89" x2="416.1" y2="29.89" stroke="#707070" stroke-width="0.9"/>
<line x1="640.4" y1="195.69" x2="638.4" y2="195.69" stroke="#7f7f7f" stroke-width="0.9"/>
<line x1="640.4" y1="186.58" x2="638.4" y2="186.58" stroke="#7f7f7f" stroke-width="0.9"/>
<line x1="640.4" y1="177.47" x2="638.4" y2="177.47" stroke="#7f7f7f" stroke-width="0.9"/>
<line x1="640.4" y1="168.36" x2="638.4" y2="168.36" stroke="#7f7f7f" stroke-width="0.9"/>
<line x1="640.4" y1="159.25" x2="636.8" y2="159.25" stroke="#7f7f7f" stroke-width="0.9"/>
<line x1="640.4" y1="150.14" x2="638.4" y2="150.14" stroke="#7f7f7f" stroke-width="0.9"/>
<line x1="640.4" y1="141.03" x2="638.4" y2="141.03" stroke="#7f7f7f" stroke-width="0.9"/>
<line x1="640.4" y1="131.92" x2="638.4" y2="131.92" stroke="#7f7f7f" stroke-width="0.9"/>
<line x1="640.4" y1="122.81" x2="638.4" y2="122.81" stroke="#7f7f7f" stroke-width="0.9"/>
<line x1="640.4" y1="113.7" x2="636.8" y2="113.7" stroke="#7f7f7f" stroke-width="0.9"/>
<line x1="640.4" y1="104.59" x2="638.4" y2="104.59" stroke="#7f7f7f" stroke-width="0.9"/>
<line x1="640.4" y1="95.48" x2="638.4" y2="95.48" stroke="#7f7f7f" stroke-width="0.9"/>
<line x1="640.4" y1="86.37" x2="638.4" y2="86.37" stroke="#7f7f7f" stroke-width="0.9"/>
<line x1="640.4" y1="77.26" x2="638.4" y2="77.26" stroke="#7f7f7f" stroke-width="0.9"/>
<line x1="640.4" y1="68.15" x2="636.8" y2="68.15" stroke="#7f7f7f" stroke-width="0.9"/>
<line x1="640.4" y1="59.04" x2="638.4" y2="59.04" stroke="#7f7f7f" stroke-width="0.9"/>
<line x1="640.4" y1="49.93" x2="638.4" y2="49.93" stroke="#7f7f7f" stroke-width="0.9"/>
<line x1="640.4" y1="40.82" x2="638.4" y2="40.82" stroke="#7f7f7f" stroke-width="0.9"/>
<line x1="640.4" y1="31.71" x2="638.4" y2="31.71" stroke="#7f7f7f" stroke-width="0.9"/>
<line x1="413.5" y1="22.3" x2="640.4" y2="22.3" stroke="#1a1a1a" stroke-width="1.15"/>
<line x1="413.5" y1="205" x2="640.4" y2="205" stroke="#1a1a1a" stroke-width="1.1"/>
<line x1="414.2" y1="22" x2="414.2" y2="205.55" stroke="#707070" stroke-width="1.2"/>
<line x1="640.4" y1="22" x2="640.4" y2="205.55" stroke="#7f7f7f" stroke-width="1.2"/>
<text x="412.5" y="208.7" font-size="14.4" text-anchor="end" fill="#000">0</text>
<text x="412.5" y="172.26" font-size="14.4" text-anchor="end" fill="#000">1</text>
<text x="412.5" y="135.82" font-size="14.4" text-anchor="end" fill="#000">2</text>
<text x="412.5" y="99.38" font-size="14.4" text-anchor="end" fill="#000">3</text>
<text x="412.5" y="62.94" font-size="14.4" text-anchor="end" fill="#000">4</text>
<text x="412.5" y="26.5" font-size="14.4" text-anchor="end" fill="#000">5</text>
<text x="436.73" y="220.1" font-size="14.4" text-anchor="middle" fill="#000">−2</text>
<text x="481.99" y="220.1" font-size="14.4" text-anchor="middle" fill="#000">−1</text>
<text x="527.25" y="220.1" font-size="14.4" text-anchor="middle" fill="#000">0</text>
<text x="572.51" y="220.1" font-size="14.4" text-anchor="middle" fill="#000">1</text>
<text x="617.77" y="220.1" font-size="14.4" text-anchor="middle" fill="#000">2</text>
<text x="644" y="208.7" font-size="14.4" text-anchor="start" fill="#7f7f7f">6.5</text>
<text x="644" y="163.15" font-size="14.4" text-anchor="start" fill="#7f7f7f">7</text>
<text x="644" y="117.6" font-size="14.4" text-anchor="start" fill="#7f7f7f">7.5</text>
<text x="644" y="72.05" font-size="14.4" text-anchor="start" fill="#7f7f7f">8</text>
<text x="644" y="26.5" font-size="14.4" text-anchor="start" fill="#7f7f7f">8.5</text>
<text x="394.2" y="113.45" font-size="14" text-anchor="middle" fill="#000" textLength="220.6" lengthAdjust="spacingAndGlyphs" transform="rotate(-90 394.2 113.45)">Average migration speed [µm/min]</text>
<text x="681" y="112.1" font-size="13.5" text-anchor="middle" fill="#7f7f7f" transform="rotate(-90 681 112.1)">pH</text>
<text x="526.45" y="236" font-size="13.4" text-anchor="middle" fill="#000" textLength="195" lengthAdjust="spacingAndGlyphs">Location from the center [mm]</text>
<text x="344" y="19.8" font-size="25.2" text-anchor="start" fill="#000" textLength="32.5" lengthAdjust="spacingAndGlyphs">(b)</text>
<line x1="426.8" y1="132.6" x2="460.5" y2="132.6" stroke="#f27a7a" stroke-width="1.5"/>
<circle cx="443.65" cy="132.6" r="2.05" fill="#f27a7a"/>
<text x="462.9" y="137.2" font-size="11.6" text-anchor="start" fill="#000" textLength="25.4" lengthAdjust="spacingAndGlyphs">0-1h</text>
<line x1="426.8" y1="151" x2="460.5" y2="151" stroke="#cc1a1a" stroke-width="1.5"/>
<circle cx="443.65" cy="151" r="2.05" fill="#cc1a1a"/>
<text x="462.9" y="155.6" font-size="11.6" text-anchor="start" fill="#000" textLength="25.4" lengthAdjust="spacingAndGlyphs">1-2h</text>
<line x1="426.8" y1="169.4" x2="460.5" y2="169.4" stroke="#7e0a12" stroke-width="1.5"/>
<circle cx="443.65" cy="169.4" r="2.05" fill="#7e0a12"/>
<text x="462.9" y="174" font-size="11.6" text-anchor="start" fill="#000" textLength="25.4" lengthAdjust="spacingAndGlyphs">2-3h</text>
<line x1="426.8" y1="187.8" x2="458.5" y2="187.8" stroke="#a0a0a0" stroke-width="1.1" stroke-dasharray="2,2.1"/>
<text x="462.9" y="192.4" font-size="11.6" text-anchor="start" fill="#000" textLength="15.6" lengthAdjust="spacingAndGlyphs">pH</text>
<path d="M69,291.2 C71.17,291.1 77.17,290.53 82,290.6 C86.83,290.67 92.57,291.1 98,291.6 C103.43,292.1 110.1,292.93 114.6,293.6 C119.1,294.27 121.32,294.6 125,295.6 C128.68,296.6 132.8,297.78 136.7,299.6 C140.6,301.42 145.28,304.47 148.4,306.5 C151.52,308.53 153.07,309.47 155.4,311.8 C157.73,314.13 160.22,317.53 162.4,320.5 C164.58,323.47 166.65,326.52 168.5,329.6 C170.35,332.68 171.82,335.18 173.5,339 C175.18,342.82 177.02,348 178.6,352.5 C180.18,357 181.47,361.72 183,366 C184.53,370.28 186.28,374.62 187.8,378.2 C189.32,381.78 190.57,384.62 192.1,387.5 C193.63,390.38 195.23,392.78 197,395.5 C198.77,398.22 200.8,401.35 202.7,403.8 C204.6,406.25 206.27,408.28 208.4,410.2 C210.53,412.12 213.13,413.77 215.5,415.3 C217.87,416.83 220.25,418.23 222.6,419.4 C224.95,420.57 227.25,421.47 229.6,422.3 C231.95,423.13 233,423.58 236.7,424.4 C240.4,425.22 245.25,426.5 251.8,427.2 C258.35,427.9 268.8,428.27 276,428.6 C283.2,428.93 291.83,429.1 295,429.2" fill="none" stroke="#8a8a8a" stroke-width="1.05" stroke-dasharray="2,2.1"/>
<path d="M73.04,331.3V349.3M71.14,331.3H74.94M71.14,349.3H74.94M82.11,329.5V345.5M80.21,329.5H84.01M80.21,345.5H84.01M91.19,331.8V337.8M89.29,331.8H93.09M89.29,337.8H93.09M100.27,321.2V331.2M98.37,321.2H102.17M98.37,331.2H102.17M109.34,312.4V328.4M107.44,312.4H111.24M107.44,328.4H111.24M118.42,318.2V324.2M116.52,318.2H120.32M116.52,324.2H120.32M127.49,317V325M125.59,317H129.39M125.59,325H129.39M136.57,322.5V332.5M134.67,322.5H138.47M134.67,332.5H138.47M145.65,319.1V329.1M143.75,319.1H147.55M143.75,329.1H147.55M154.72,329.6V337.6M152.82,329.6H156.62M152.82,337.6H156.62M163.8,332.7V342.7M161.9,332.7H165.7M161.9,342.7H165.7M172.87,343.2V355.2M170.97,343.2H174.77M170.97,355.2H174.77M181.95,367.5V379.5M180.05,367.5H183.85M180.05,379.5H183.85M191.03,388.2V396.2M189.13,388.2H192.93M189.13,396.2H192.93M200.1,385V397M198.2,385H202M198.2,397H202M209.18,386.2V398.2M207.28,386.2H211.08M207.28,398.2H211.08M218.25,391.4V399.4M216.35,391.4H220.15M216.35,399.4H220.15M227.33,383.4V395.4M225.43,383.4H229.23M225.43,395.4H229.23M236.41,380.2V392.2M234.51,380.2H238.31M234.51,392.2H238.31M245.48,378.7V388.7M243.58,378.7H247.38M243.58,388.7H247.38M254.56,378.6V388.6M252.66,378.6H256.46M252.66,388.6H256.46M263.63,378.6V390.6M261.73,378.6H265.53M261.73,390.6H265.53M272.71,388.3V396.3M270.81,388.3H274.61M270.81,396.3H274.61M281.79,386.7V394.7M279.89,386.7H283.69M279.89,394.7H283.69M290.86,390.7V396.7M288.96,390.7H292.76M288.96,396.7H292.76" stroke="#46ef46" stroke-opacity="0.5" stroke-width="0.85" fill="none"/>
<path d="M73.04,323V331M71.14,323H74.94M71.14,331H74.94M82.11,313.1V323.1M80.21,313.1H84.01M80.21,323.1H84.01M91.19,304.2V314.2M89.29,304.2H93.09M89.29,314.2H93.09M100.27,302V312M98.37,302H102.17M98.37,312H102.17M109.34,295.3V303.3M107.44,295.3H111.24M107.44,303.3H111.24M118.42,299.7V309.7M116.52,299.7H120.32M116.52,309.7H120.32M127.49,303.8V313.8M125.59,303.8H129.39M125.59,313.8H129.39M136.57,306.4V318.4M134.67,306.4H138.47M134.67,318.4H138.47M145.65,306.9V318.9M143.75,306.9H147.55M143.75,318.9H147.55M154.72,315.1V325.1M152.82,315.1H156.62M152.82,325.1H156.62M163.8,318.5V328.5M161.9,318.5H165.7M161.9,328.5H165.7M172.87,329.7V341.7M170.97,329.7H174.77M170.97,341.7H174.77M181.95,352.5V364.5M180.05,352.5H183.85M180.05,364.5H183.85M191.03,368.1V376.1M189.13,368.1H192.93M189.13,376.1H192.93M200.1,366V374M198.2,366H202M198.2,374H202M209.18,372.3V382.3M207.28,372.3H211.08M207.28,382.3H211.08M218.25,373.9V383.9M216.35,373.9H220.15M216.35,383.9H220.15M227.33,367.4V381.4M225.43,367.4H229.23M225.43,381.4H229.23M236.41,367.4V381.4M234.51,367.4H238.31M234.51,381.4H238.31M245.48,360.3V370.3M243.58,360.3H247.38M243.58,370.3H247.38M254.56,369.1V379.1M252.66,369.1H256.46M252.66,379.1H256.46M263.63,365.4V377.4M261.73,365.4H265.53M261.73,377.4H265.53M272.71,371.1V385.1M270.81,371.1H274.61M270.81,385.1H274.61M281.79,369.9V379.9M279.89,369.9H283.69M279.89,379.9H283.69M290.86,377.6V387.6M288.96,377.6H292.76M288.96,387.6H292.76" stroke="#129412" stroke-opacity="0.5" stroke-width="0.85" fill="none"/>
<path d="M73.04,323V331M71.14,323H74.94M71.14,331H74.94M82.11,314.7V324.7M80.21,314.7H84.01M80.21,324.7H84.01M91.19,310.3V320.3M89.29,310.3H93.09M89.29,320.3H93.09M100.27,302V312M98.37,302H102.17M98.37,312H102.17M109.34,296V304M107.44,296H111.24M107.44,304H111.24M118.42,310.7V320.7M116.52,310.7H120.32M116.52,320.7H120.32M127.49,307.2V315.2M125.59,307.2H129.39M125.59,315.2H129.39M136.57,313V323M134.67,313H138.47M134.67,323H138.47M145.65,311.6V321.6M143.75,311.6H147.55M143.75,321.6H147.55M154.72,317.1V327.1M152.82,317.1H156.62M152.82,327.1H156.62M163.8,319.5V329.5M161.9,319.5H165.7M161.9,329.5H165.7M172.87,329.7V341.7M170.97,329.7H174.77M170.97,341.7H174.77M181.95,352.5V364.5M180.05,352.5H183.85M180.05,364.5H183.85M191.03,369.2V377.2M189.13,369.2H192.93M189.13,377.2H192.93M200.1,367.1V375.1M198.2,367.1H202M198.2,375.1H202M209.18,372.3V382.3M207.28,372.3H211.08M207.28,382.3H211.08M218.25,373.9V383.9M216.35,373.9H220.15M216.35,383.9H220.15M227.33,364.5V376.5M225.43,364.5H229.23M225.43,376.5H229.23M236.41,365.1V377.1M234.51,365.1H238.31M234.51,377.1H238.31M245.48,358.3V368.3M243.58,358.3H247.38M243.58,368.3H247.38M254.56,361.8V371.8M252.66,361.8H256.46M252.66,371.8H256.46M263.63,365.4V377.4M261.73,365.4H265.53M261.73,377.4H265.53M272.71,365.4V377.4M270.81,365.4H274.61M270.81,377.4H274.61M281.79,369.5V379.5M279.89,369.5H283.69M279.89,379.5H283.69M290.86,376.6V386.6M288.96,376.6H292.76M288.96,386.6H292.76" stroke="#125a12" stroke-opacity="0.5" stroke-width="0.85" fill="none"/>
<polyline points="73.04,340.3 82.11,337.5 91.19,334.8 100.27,326.2 109.34,320.4 118.42,321.2 127.49,321 136.57,327.5 145.65,324.1 154.72,333.6 163.8,337.7 172.87,349.2 181.95,373.5 191.03,392.2 200.1,391 209.18,392.2 218.25,395.4 227.33,389.4 236.41,386.2 245.48,383.7 254.56,383.6 263.63,384.6 272.71,392.3 281.79,390.7 290.86,393.7" fill="none" stroke="#46ef46" stroke-width="1.5" stroke-linejoin="round"/>
<circle cx="73.04" cy="340.3" r="2.05" fill="#46ef46"/>
<circle cx="82.11" cy="337.5" r="2.05" fill="#46ef46"/>
<circle cx="91.19" cy="334.8" r="2.05" fill="#46ef46"/>
<circle cx="100.27" cy="326.2" r="2.05" fill="#46ef46"/>
<circle cx="109.34" cy="320.4" r="2.05" fill="#46ef46"/>
<circle cx="118.42" cy="321.2" r="2.05" fill="#46ef46"/>
<circle cx="127.49" cy="321" r="2.05" fill="#46ef46"/>
<circle cx="136.57" cy="327.5" r="2.05" fill="#46ef46"/>
<circle cx="145.65" cy="324.1" r="2.05" fill="#46ef46"/>
<circle cx="154.72" cy="333.6" r="2.05" fill="#46ef46"/>
<circle cx="163.8" cy="337.7" r="2.05" fill="#46ef46"/>
<circle cx="172.87" cy="349.2" r="2.05" fill="#46ef46"/>
<circle cx="181.95" cy="373.5" r="2.05" fill="#46ef46"/>
<circle cx="191.03" cy="392.2" r="2.05" fill="#46ef46"/>
<circle cx="200.1" cy="391" r="2.05" fill="#46ef46"/>
<circle cx="209.18" cy="392.2" r="2.05" fill="#46ef46"/>
<circle cx="218.25" cy="395.4" r="2.05" fill="#46ef46"/>
<circle cx="227.33" cy="389.4" r="2.05" fill="#46ef46"/>
<circle cx="236.41" cy="386.2" r="2.05" fill="#46ef46"/>
<circle cx="245.48" cy="383.7" r="2.05" fill="#46ef46"/>
<circle cx="254.56" cy="383.6" r="2.05" fill="#46ef46"/>
<circle cx="263.63" cy="384.6" r="2.05" fill="#46ef46"/>
<circle cx="272.71" cy="392.3" r="2.05" fill="#46ef46"/>
<circle cx="281.79" cy="390.7" r="2.05" fill="#46ef46"/>
<circle cx="290.86" cy="393.7" r="2.05" fill="#46ef46"/>
<polyline points="73.04,327 82.11,318.1 91.19,309.2 100.27,307 109.34,299.3 118.42,304.7 127.49,308.8 136.57,312.4 145.65,312.9 154.72,320.1 163.8,323.5 172.87,335.7 181.95,358.5 191.03,372.1 200.1,370 209.18,377.3 218.25,378.9 227.33,374.4 236.41,374.4 245.48,365.3 254.56,374.1 263.63,371.4 272.71,378.1 281.79,374.9 290.86,382.6" fill="none" stroke="#129412" stroke-width="1.5" stroke-linejoin="round"/>
<circle cx="73.04" cy="327" r="2.05" fill="#129412"/>
<circle cx="82.11" cy="318.1" r="2.05" fill="#129412"/>
<circle cx="91.19" cy="309.2" r="2.05" fill="#129412"/>
<circle cx="100.27" cy="307" r="2.05" fill="#129412"/>
<circle cx="109.34" cy="299.3" r="2.05" fill="#129412"/>
<circle cx="118.42" cy="304.7" r="2.05" fill="#129412"/>
<circle cx="127.49" cy="308.8" r="2.05" fill="#129412"/>
<circle cx="136.57" cy="312.4" r="2.05" fill="#129412"/>
<circle cx="145.65" cy="312.9" r="2.05" fill="#129412"/>
<circle cx="154.72" cy="320.1" r="2.05" fill="#129412"/>
<circle cx="163.8" cy="323.5" r="2.05" fill="#129412"/>
<circle cx="172.87" cy="335.7" r="2.05" fill="#129412"/>
<circle cx="181.95" cy="358.5" r="2.05" fill="#129412"/>
<circle cx="191.03" cy="372.1" r="2.05" fill="#129412"/>
<circle cx="200.1" cy="370" r="2.05" fill="#129412"/>
<circle cx="209.18" cy="377.3" r="2.05" fill="#129412"/>
<circle cx="218.25" cy="378.9" r="2.05" fill="#129412"/>
<circle cx="227.33" cy="374.4" r="2.05" fill="#129412"/>
<circle cx="236.41" cy="374.4" r="2.05" fill="#129412"/>
<circle cx="245.48" cy="365.3" r="2.05" fill="#129412"/>
<circle cx="254.56" cy="374.1" r="2.05" fill="#129412"/>
<circle cx="263.63" cy="371.4" r="2.05" fill="#129412"/>
<circle cx="272.71" cy="378.1" r="2.05" fill="#129412"/>
<circle cx="281.79" cy="374.9" r="2.05" fill="#129412"/>
<circle cx="290.86" cy="382.6" r="2.05" fill="#129412"/>
<polyline points="73.04,327 82.11,319.7 91.19,315.3 100.27,307 109.34,300 118.42,315.7 127.49,311.2 136.57,318 145.65,316.6 154.72,322.1 163.8,324.5 172.87,335.7 181.95,358.5 191.03,373.2 200.1,371.1 209.18,377.3 218.25,378.9 227.33,370.5 236.41,371.1 245.48,363.3 254.56,366.8 263.63,371.4 272.71,371.4 281.79,374.5 290.86,381.6" fill="none" stroke="#125a12" stroke-width="1.5" stroke-linejoin="round"/>
<circle cx="73.04" cy="327" r="2.05" fill="#125a12"/>
<circle cx="82.11" cy="319.7" r="2.05" fill="#125a12"/>
<circle cx="91.19" cy="315.3" r="2.05" fill="#125a12"/>
<circle cx="100.27" cy="307" r="2.05" fill="#125a12"/>
<circle cx="109.34" cy="300" r="2.05" fill="#125a12"/>
<circle cx="118.42" cy="315.7" r="2.05" fill="#125a12"/>
<circle cx="127.49" cy="311.2" r="2.05" fill="#125a12"/>
<circle cx="136.57" cy="318" r="2.05" fill="#125a12"/>
<circle cx="145.65" cy="316.6" r="2.05" fill="#125a12"/>
<circle cx="154.72" cy="322.1" r="2.05" fill="#125a12"/>
<circle cx="163.8" cy="324.5" r="2.05" fill="#125a12"/>
<circle cx="172.87" cy="335.7" r="2.05" fill="#125a12"/>
<circle cx="181.95" cy="358.5" r="2.05" fill="#125a12"/>
<circle cx="191.03" cy="373.2" r="2.05" fill="#125a12"/>
<circle cx="200.1" cy="371.1" r="2.05" fill="#125a12"/>
<circle cx="209.18" cy="377.3" r="2.05" fill="#125a12"/>
<circle cx="218.25" cy="378.9" r="2.05" fill="#125a12"/>
<circle cx="227.33" cy="370.5" r="2.05" fill="#125a12"/>
<circle cx="236.41" cy="371.1" r="2.05" fill="#125a12"/>
<circle cx="245.48" cy="363.3" r="2.05" fill="#125a12"/>
<circle cx="254.56" cy="366.8" r="2.05" fill="#125a12"/>
<circle cx="263.63" cy="371.4" r="2.05" fill="#125a12"/>
<circle cx="272.71" cy="371.4" r="2.05" fill="#125a12"/>
<circle cx="281.79" cy="374.5" r="2.05" fill="#125a12"/>
<circle cx="290.86" cy="381.6" r="2.05" fill="#125a12"/>
<line x1="73.04" y1="458.7" x2="73.04" y2="456.7" stroke="#1a1a1a" stroke-width="0.9"/>
<line x1="73.04" y1="276.6" x2="73.04" y2="278.6" stroke="#1a1a1a" stroke-width="0.9"/>
<line x1="82.11" y1="458.7" x2="82.11" y2="456.7" stroke="#1a1a1a" stroke-width="0.9"/>
<line x1="82.11" y1="276.6" x2="82.11" y2="278.6" stroke="#1a1a1a" stroke-width="0.9"/>
<line x1="91.19" y1="458.7" x2="91.19" y2="455.1" stroke="#1a1a1a" stroke-width="0.9"/>
<line x1="91.19" y1="276.6" x2="91.19" y2="280.2" stroke="#1a1a1a" stroke-width="0.9"/>
<line x1="100.27" y1="458.7" x2="100.27" y2="456.7" stroke="#1a1a1a" stroke-width="0.9"/>
<line x1="100.27" y1="276.6" x2="100.27" y2="278.6" stroke="#1a1a1a" stroke-width="0.9"/>
<line x1="109.34" y1="458.7" x2="109.34" y2="456.7" stroke="#1a1a1a" stroke-width="0.9"/>
<line x1="109.34" y1="276.6" x2="109.34" y2="278.6" stroke="#1a1a1a" stroke-width="0.9"/>
<line x1="118.42" y1="458.7" x2="118.42" y2="456.7" stroke="#1a1a1a" stroke-width="0.9"/>
<line x1="118.42" y1="276.6" x2="118.42" y2="278.6" stroke="#1a1a1a" stroke-width="0.9"/>
<line x1="127.49" y1="458.7" x2="127.49" y2="456.7" stroke="#1a1a1a" stroke-width="0.9"/>
<line x1="127.49" y1="276.6" x2="127.49" y2="278.6" stroke="#1a1a1a" stroke-width="0.9"/>
<line x1="136.57" y1="458.7" x2="136.57" y2="455.1" stroke="#1a1a1a" stroke-width="0.9"/>
<line x1="136.57" y1="276.6" x2="136.57" y2="280.2" stroke="#1a1a1a" stroke-width="0.9"/>
<line x1="145.65" y1="458.7" x2="145.65" y2="456.7" stroke="#1a1a1a" stroke-width="0.9"/>
<line x1="145.65" y1="276.6" x2="145.65" y2="278.6" stroke="#1a1a1a" stroke-width="0.9"/>
<line x1="154.72" y1="458.7" x2="154.72" y2="456.7" stroke="#1a1a1a" stroke-width="0.9"/>
<line x1="154.72" y1="276.6" x2="154.72" y2="278.6" stroke="#1a1a1a" stroke-width="0.9"/>
<line x1="163.8" y1="458.7" x2="163.8" y2="456.7" stroke="#1a1a1a" stroke-width="0.9"/>
<line x1="163.8" y1="276.6" x2="163.8" y2="278.6" stroke="#1a1a1a" stroke-width="0.9"/>
<line x1="172.87" y1="458.7" x2="172.87" y2="456.7" stroke="#1a1a1a" stroke-width="0.9"/>
<line x1="172.87" y1="276.6" x2="172.87" y2="278.6" stroke="#1a1a1a" stroke-width="0.9"/>
<line x1="181.95" y1="458.7" x2="181.95" y2="455.1" stroke="#1a1a1a" stroke-width="0.9"/>
<line x1="181.95" y1="276.6" x2="181.95" y2="280.2" stroke="#1a1a1a" stroke-width="0.9"/>
<line x1="191.03" y1="458.7" x2="191.03" y2="456.7" stroke="#1a1a1a" stroke-width="0.9"/>
<line x1="191.03" y1="276.6" x2="191.03" y2="278.6" stroke="#1a1a1a" stroke-width="0.9"/>
<line x1="200.1" y1="458.7" x2="200.1" y2="456.7" stroke="#1a1a1a" stroke-width="0.9"/>
<line x1="200.1" y1="276.6" x2="200.1" y2="278.6" stroke="#1a1a1a" stroke-width="0.9"/>
<line x1="209.18" y1="458.7" x2="209.18" y2="456.7" stroke="#1a1a1a" stroke-width="0.9"/>
<line x1="209.18" y1="276.6" x2="209.18" y2="278.6" stroke="#1a1a1a" stroke-width="0.9"/>
<line x1="218.25" y1="458.7" x2="218.25" y2="456.7" stroke="#1a1a1a" stroke-width="0.9"/>
<line x1="218.25" y1="276.6" x2="218.25" y2="278.6" stroke="#1a1a1a" stroke-width="0.9"/>
<line x1="227.33" y1="458.7" x2="227.33" y2="455.1" stroke="#1a1a1a" stroke-width="0.9"/>
<line x1="227.33" y1="276.6" x2="227.33" y2="280.2" stroke="#1a1a1a" stroke-width="0.9"/>
<line x1="236.41" y1="458.7" x2="236.41" y2="456.7" stroke="#1a1a1a" stroke-width="0.9"/>
<line x1="236.41" y1="276.6" x2="236.41" y2="278.6" stroke="#1a1a1a" stroke-width="0.9"/>
<line x1="245.48" y1="458.7" x2="245.48" y2="456.7" stroke="#1a1a1a" stroke-width="0.9"/>
<line x1="245.48" y1="276.6" x2="245.48" y2="278.6" stroke="#1a1a1a" stroke-width="0.9"/>
<line x1="254.56" y1="458.7" x2="254.56" y2="456.7" stroke="#1a1a1a" stroke-width="0.9"/>
<line x1="254.56" y1="276.6" x2="254.56" y2="278.6" stroke="#1a1a1a" stroke-width="0.9"/>
<line x1="263.63" y1="458.7" x2="263.63" y2="456.7" stroke="#1a1a1a" stroke-width="0.9"/>
<line x1="263.63" y1="276.6" x2="263.63" y2="278.6" stroke="#1a1a1a" stroke-width="0.9"/>
<line x1="272.71" y1="458.7" x2="272.71" y2="455.1" stroke="#1a1a1a" stroke-width="0.9"/>
<line x1="272.71" y1="276.6" x2="272.71" y2="280.2" stroke="#1a1a1a" stroke-width="0.9"/>
<line x1="281.79" y1="458.7" x2="281.79" y2="456.7" stroke="#1a1a1a" stroke-width="0.9"/>
<line x1="281.79" y1="276.6" x2="281.79" y2="278.6" stroke="#1a1a1a" stroke-width="0.9"/>
<line x1="290.86" y1="458.7" x2="290.86" y2="456.7" stroke="#1a1a1a" stroke-width="0.9"/>
<line x1="290.86" y1="276.6" x2="290.86" y2="278.6" stroke="#1a1a1a" stroke-width="0.9"/>
<line x1="68.5" y1="451.42" x2="70.5" y2="451.42" stroke="#1a1a1a" stroke-width="0.9"/>
<line x1="68.5" y1="444.13" x2="70.5" y2="444.13" stroke="#1a1a1a" stroke-width="0.9"/>
<line x1="68.5" y1="436.85" x2="70.5" y2="436.85" stroke="#1a1a1a" stroke-width="0.9"/>
<line x1="68.5" y1="429.56" x2="70.5" y2="429.56" stroke="#1a1a1a" stroke-width="0.9"/>
<line x1="68.5" y1="422.28" x2="72.1" y2="422.28" stroke="#1a1a1a" stroke-width="0.9"/>
<line x1="68.5" y1="415" x2="70.5" y2="415" stroke="#1a1a1a" stroke-width="0.9"/>
<line x1="68.5" y1="407.71" x2="70.5" y2="407.71" stroke="#1a1a1a" stroke-width="0.9"/>
<line x1="68.5" y1="400.43" x2="70.5" y2="400.43" stroke="#1a1a1a" stroke-width="0.9"/>
<line x1="68.5" y1="393.14" x2="70.5" y2="393.14" stroke="#1a1a1a" stroke-width="0.9"/>
<line x1="68.5" y1="385.86" x2="72.1" y2="385.86" stroke="#1a1a1a" stroke-width="0.9"/>
<line x1="68.5" y1="378.58" x2="70.5" y2="378.58" stroke="#1a1a1a" stroke-width="0.9"/>
<line x1="68.5" y1="371.29" x2="70.5" y2="371.29" stroke="#1a1a1a" stroke-width="0.9"/>
<line x1="68.5" y1="364.01" x2="70.5" y2="364.01" stroke="#1a1a1a" stroke-width="0.9"/>
<line x1="68.5" y1="356.72" x2="70.5" y2="356.72" stroke="#1a1a1a" stroke-width="0.9"/>
<line x1="68.5" y1="349.44" x2="72.1" y2="349.44" stroke="#1a1a1a" stroke-width="0.9"/>
<line x1="68.5" y1="342.16" x2="70.5" y2="342.16" stroke="#1a1a1a" stroke-width="0.9"/>
<line x1="68.5" y1="334.87" x2="70.5" y2="334.87" stroke="#1a1a1a" stroke-width="0.9"/>
<line x1="68.5" y1="327.59" x2="70.5" y2="327.59" stroke="#1a1a1a" stroke-width="0.9"/>
<line x1="68.5" y1="320.3" x2="70.5" y2="320.3" stroke="#1a1a1a" stroke-width="0.9"/>
<line x1="68.5" y1="313.02" x2="72.1" y2="313.02" stroke="#1a1a1a" stroke-width="0.9"/>
<line x1="68.5" y1="305.74" x2="70.5" y2="305.74" stroke="#1a1a1a" stroke-width="0.9"/>
<line x1="68.5" y1="298.45" x2="70.5" y2="298.45" stroke="#1a1a1a" stroke-width="0.9"/>
<line x1="68.5" y1="291.17" x2="70.5" y2="291.17" stroke="#1a1a1a" stroke-width="0.9"/>
<line x1="68.5" y1="283.88" x2="70.5" y2="283.88" stroke="#1a1a1a" stroke-width="0.9"/>
<line x1="295.4" y1="449.6" x2="293.4" y2="449.6" stroke="#7f7f7f" stroke-width="0.9"/>
<line x1="295.4" y1="440.49" x2="293.4" y2="440.49" stroke="#7f7f7f" stroke-width="0.9"/>
<line x1="295.4" y1="431.38" x2="293.4" y2="431.38" stroke="#7f7f7f" stroke-width="0.9"/>
<line x1="295.4" y1="422.28" x2="293.4" y2="422.28" stroke="#7f7f7f" stroke-width="0.9"/>
<line x1="295.4" y1="413.18" x2="291.8" y2="413.18" stroke="#7f7f7f" stroke-width="0.9"/>
<line x1="295.4" y1="404.07" x2="293.4" y2="404.07" stroke="#7f7f7f" stroke-width="0.9"/>
<line x1="295.4" y1="394.96" x2="293.4" y2="394.96" stroke="#7f7f7f" stroke-width="0.9"/>
<line x1="295.4" y1="385.86" x2="293.4" y2="385.86" stroke="#7f7f7f" stroke-width="0.9"/>
<line x1="295.4" y1="376.75" x2="293.4" y2="376.75" stroke="#7f7f7f" stroke-width="0.9"/>
<line x1="295.4" y1="367.65" x2="291.8" y2="367.65" stroke="#7f7f7f" stroke-width="0.9"/>
<line x1="295.4" y1="358.55" x2="293.4" y2="358.55" stroke="#7f7f7f" stroke-width="0.9"/>
<line x1="295.4" y1="349.44" x2="293.4" y2="349.44" stroke="#7f7f7f" stroke-width="0.9"/>
<line x1="295.4" y1="340.34" x2="293.4" y2="340.34" stroke="#7f7f7f" stroke-width="0.9"/>
<line x1="295.4" y1="331.23" x2="293.4" y2="331.23" stroke="#7f7f7f" stroke-width="0.9"/>
<line x1="295.4" y1="322.12" x2="291.8" y2="322.12" stroke="#7f7f7f" stroke-width="0.9"/>
<line x1="295.4" y1="313.02" x2="293.4" y2="313.02" stroke="#7f7f7f" stroke-width="0.9"/>
<line x1="295.4" y1="303.92" x2="293.4" y2="303.92" stroke="#7f7f7f" stroke-width="0.9"/>
<line x1="295.4" y1="294.81" x2="293.4" y2="294.81" stroke="#7f7f7f" stroke-width="0.9"/>
<line x1="295.4" y1="285.7" x2="293.4" y2="285.7" stroke="#7f7f7f" stroke-width="0.9"/>
<line x1="67.9" y1="276.3" x2="295.4" y2="276.3" stroke="#1a1a1a" stroke-width="1.15"/>
<line x1="67.9" y1="459" x2="295.4" y2="459" stroke="#1a1a1a" stroke-width="1.1"/>
<line x1="68.6" y1="276" x2="68.6" y2="459.55" stroke="#1a1a1a" stroke-width="1.2"/>
<line x1="295.4" y1="276" x2="295.4" y2="459.55" stroke="#7f7f7f" stroke-width="1.2"/>
<text x="66.9" y="462.6" font-size="14.4" text-anchor="end" fill="#000">0</text>
<text x="66.9" y="426.18" font-size="14.4" text-anchor="end" fill="#000">1</text>
<text x="66.9" y="389.76" font-size="14.4" text-anchor="end" fill="#000">2</text>
<text x="66.9" y="353.34" font-size="14.4" text-anchor="end" fill="#000">3</text>
<text x="66.9" y="316.92" font-size="14.4" text-anchor="end" fill="#000">4</text>
<text x="66.9" y="280.5" font-size="14.4" text-anchor="end" fill="#000">5</text>
<text x="91.19" y="474" font-size="14.4" text-anchor="middle" fill="#000">−2</text>
<text x="136.57" y="474" font-size="14.4" text-anchor="middle" fill="#000">−1</text>
<text x="181.95" y="474" font-size="14.4" text-anchor="middle" fill="#000">0</text>
<text x="227.33" y="474" font-size="14.4" text-anchor="middle" fill="#000">1</text>
<text x="272.71" y="474" font-size="14.4" text-anchor="middle" fill="#000">2</text>
<text x="299" y="462.6" font-size="14.4" text-anchor="start" fill="#7f7f7f">6.5</text>
<text x="299" y="417.07" font-size="14.4" text-anchor="start" fill="#7f7f7f">7</text>
<text x="299" y="371.55" font-size="14.4" text-anchor="start" fill="#7f7f7f">7.5</text>
<text x="299" y="326.02" font-size="14.4" text-anchor="start" fill="#7f7f7f">8</text>
<text x="299" y="280.5" font-size="14.4" text-anchor="start" fill="#7f7f7f">8.5</text>
<text x="48.7" y="367.4" font-size="14" text-anchor="middle" fill="#000" textLength="220.6" lengthAdjust="spacingAndGlyphs" transform="rotate(-90 48.7 367.4)">Average migration speed [µm/min]</text>
<text x="335.6" y="366.05" font-size="13.5" text-anchor="middle" fill="#7f7f7f" transform="rotate(-90 335.6 366.05)">pH</text>
<text x="181.15" y="489.9" font-size="13.4" text-anchor="middle" fill="#000" textLength="195" lengthAdjust="spacingAndGlyphs">Location from the center [mm]</text>
<text x="-1.4" y="273.6" font-size="25.2" text-anchor="start" fill="#000" textLength="29" lengthAdjust="spacingAndGlyphs">(c)</text>
<line x1="81.1" y1="386.7" x2="115.8" y2="386.7" stroke="#46ef46" stroke-width="1.5"/>
<circle cx="98.45" cy="386.7" r="2.05" fill="#46ef46"/>
<text x="118.2" y="391.3" font-size="11.6" text-anchor="start" fill="#000" textLength="25.4" lengthAdjust="spacingAndGlyphs">0-1h</text>
<line x1="81.1" y1="405.1" x2="115.8" y2="405.1" stroke="#129412" stroke-width="1.5"/>
<circle cx="98.45" cy="405.1" r="2.05" fill="#129412"/>
<text x="118.2" y="409.7" font-size="11.6" text-anchor="start" fill="#000" textLength="25.4" lengthAdjust="spacingAndGlyphs">1-2h</text>
<line x1="81.1" y1="423.5" x2="115.8" y2="423.5" stroke="#125a12" stroke-width="1.5"/>
<circle cx="98.45" cy="423.5" r="2.05" fill="#125a12"/>
<text x="118.2" y="428.1" font-size="11.6" text-anchor="start" fill="#000" textLength="25.4" lengthAdjust="spacingAndGlyphs">2-3h</text>
<line x1="81.1" y1="441.9" x2="113.8" y2="441.9" stroke="#a0a0a0" stroke-width="1.1" stroke-dasharray="2,2.1"/>
<text x="118.2" y="446.5" font-size="11.6" text-anchor="start" fill="#000" textLength="15.6" lengthAdjust="spacingAndGlyphs">pH</text>
<line x1="423.2" y1="397.74" x2="628.73" y2="337.63" stroke="#000000" stroke-width="1.1" stroke-dasharray="2.4,1.7"/>
<line x1="423.2" y1="372.87" x2="628.73" y2="322.26" stroke="#30359e" stroke-width="1.1" stroke-dasharray="1,1.1"/>
<line x1="423.2" y1="359.5" x2="628.73" y2="309.94" stroke="#8c1010" stroke-width="1.1" stroke-dasharray="5.4,2.3,1.2,2.3"/>
<line x1="423.2" y1="378.44" x2="628.73" y2="314.65" stroke="#168c16" stroke-width="1.1" stroke-dasharray="3.2,2.6,1.2,2.6,1.2,2.6"/>
<circle cx="422.2" cy="398.2" r="2.25" fill="#000000"/>
<circle cx="425.1" cy="397.4" r="2.25" fill="#000000"/>
<circle cx="428.6" cy="395" r="2.25" fill="#000000"/>
<circle cx="435.3" cy="401" r="2.25" fill="#000000"/>
<circle cx="446.6" cy="397.9" r="2.25" fill="#000000"/>
<circle cx="463.4" cy="387.8" r="2.25" fill="#000000"/>
<circle cx="487" cy="373.5" r="2.25" fill="#000000"/>
<circle cx="521.4" cy="369.9" r="2.25" fill="#000000"/>
<circle cx="551" cy="354.6" r="2.25" fill="#000000"/>
<circle cx="580.2" cy="343.6" r="2.25" fill="#000000"/>
<circle cx="600.3" cy="358.9" r="2.25" fill="#000000"/>
<circle cx="612.2" cy="342.7" r="2.25" fill="#000000"/>
<circle cx="619" cy="341.5" r="2.25" fill="#000000"/>
<circle cx="624.8" cy="336.6" r="2.25" fill="#000000"/>
<circle cx="628.7" cy="345.6" r="2.25" fill="#000000"/>
<circle cx="422.2" cy="360.9" r="2.25" fill="#1432d2"/>
<circle cx="425.1" cy="362" r="2.25" fill="#1432d2"/>
<circle cx="428.6" cy="365.2" r="2.25" fill="#1432d2"/>
<circle cx="435.3" cy="373" r="2.25" fill="#1432d2"/>
<circle cx="446.6" cy="375.9" r="2.25" fill="#1432d2"/>
<circle cx="463.4" cy="371" r="2.25" fill="#1432d2"/>
<circle cx="487" cy="369" r="2.25" fill="#1432d2"/>
<circle cx="521.4" cy="354.8" r="2.25" fill="#1432d2"/>
<circle cx="551" cy="338.3" r="2.25" fill="#1432d2"/>
<circle cx="580.2" cy="328.6" r="2.25" fill="#1432d2"/>
<circle cx="600.3" cy="332.7" r="2.25" fill="#1432d2"/>
<circle cx="612.2" cy="323.7" r="2.25" fill="#1432d2"/>
<circle cx="619" cy="323.7" r="2.25" fill="#1432d2"/>
<circle cx="624.8" cy="317.6" r="2.25" fill="#1432d2"/>
<circle cx="628.7" cy="323" r="2.25" fill="#1432d2"/>
<circle cx="422.2" cy="354.6" r="2.25" fill="#8c1010"/>
<circle cx="425.1" cy="355.6" r="2.25" fill="#8c1010"/>
<circle cx="428.6" cy="357.7" r="2.25" fill="#8c1010"/>
<circle cx="435.3" cy="357.3" r="2.25" fill="#8c1010"/>
<circle cx="446.6" cy="360.6" r="2.25" fill="#8c1010"/>
<circle cx="463.4" cy="356.7" r="2.25" fill="#8c1010"/>
<circle cx="487" cy="349.7" r="2.25" fill="#8c1010"/>
<circle cx="521.4" cy="340.2" r="2.25" fill="#8c1010"/>
<circle cx="551" cy="318.9" r="2.25" fill="#8c1010"/>
<circle cx="580.2" cy="316.9" r="2.25" fill="#8c1010"/>
<circle cx="600.3" cy="320.8" r="2.25" fill="#8c1010"/>
<circle cx="612.2" cy="310.4" r="2.25" fill="#8c1010"/>
<circle cx="619" cy="313.5" r="2.25" fill="#8c1010"/>
<circle cx="624.8" cy="311.6" r="2.25" fill="#8c1010"/>
<circle cx="628.7" cy="312.8" r="2.25" fill="#8c1010"/>
<circle cx="422.2" cy="363.4" r="2.25" fill="#168c16"/>
<circle cx="425.1" cy="370.9" r="2.25" fill="#168c16"/>
<circle cx="428.6" cy="370.5" r="2.25" fill="#168c16"/>
<circle cx="435.3" cy="378.6" r="2.25" fill="#168c16"/>
<circle cx="446.6" cy="376.9" r="2.25" fill="#168c16"/>
<circle cx="463.4" cy="371.2" r="2.25" fill="#168c16"/>
<circle cx="487" cy="373" r="2.25" fill="#168c16"/>
<circle cx="521.4" cy="358.5" r="2.25" fill="#168c16"/>
<circle cx="551" cy="336.4" r="2.25" fill="#168c16"/>
<circle cx="580.2" cy="324.5" r="2.25" fill="#168c16"/>
<circle cx="600.3" cy="319.3" r="2.25" fill="#168c16"/>
<circle cx="612.2" cy="316.9" r="2.25" fill="#168c16"/>
<circle cx="619" cy="318.4" r="2.25" fill="#168c16"/>
<circle cx="624.8" cy="312.3" r="2.25" fill="#168c16"/>
<circle cx="628.7" cy="315.7" r="2.25" fill="#168c16"/>
<line x1="427.87" y1="458.4" x2="427.87" y2="456.4" stroke="#1a1a1a" stroke-width="0.9"/>
<line x1="427.87" y1="276.6" x2="427.87" y2="278.6" stroke="#1a1a1a" stroke-width="0.9"/>
<line x1="442.05" y1="458.4" x2="442.05" y2="454.8" stroke="#1a1a1a" stroke-width="0.9"/>
<line x1="442.05" y1="276.6" x2="442.05" y2="280.2" stroke="#1a1a1a" stroke-width="0.9"/>
<line x1="456.22" y1="458.4" x2="456.22" y2="456.4" stroke="#1a1a1a" stroke-width="0.9"/>
<line x1="456.22" y1="276.6" x2="456.22" y2="278.6" stroke="#1a1a1a" stroke-width="0.9"/>
<line x1="470.4" y1="458.4" x2="470.4" y2="456.4" stroke="#1a1a1a" stroke-width="0.9"/>
<line x1="470.4" y1="276.6" x2="470.4" y2="278.6" stroke="#1a1a1a" stroke-width="0.9"/>
<line x1="484.57" y1="458.4" x2="484.57" y2="456.4" stroke="#1a1a1a" stroke-width="0.9"/>
<line x1="484.57" y1="276.6" x2="484.57" y2="278.6" stroke="#1a1a1a" stroke-width="0.9"/>
<line x1="498.75" y1="458.4" x2="498.75" y2="456.4" stroke="#1a1a1a" stroke-width="0.9"/>
<line x1="498.75" y1="276.6" x2="498.75" y2="278.6" stroke="#1a1a1a" stroke-width="0.9"/>
<line x1="512.93" y1="458.4" x2="512.93" y2="454.8" stroke="#1a1a1a" stroke-width="0.9"/>
<line x1="512.93" y1="276.6" x2="512.93" y2="280.2" stroke="#1a1a1a" stroke-width="0.9"/>
<line x1="527.1" y1="458.4" x2="527.1" y2="456.4" stroke="#1a1a1a" stroke-width="0.9"/>
<line x1="527.1" y1="276.6" x2="527.1" y2="278.6" stroke="#1a1a1a" stroke-width="0.9"/>
<line x1="541.28" y1="458.4" x2="541.28" y2="456.4" stroke="#1a1a1a" stroke-width="0.9"/>
<line x1="541.28" y1="276.6" x2="541.28" y2="278.6" stroke="#1a1a1a" stroke-width="0.9"/>
<line x1="555.45" y1="458.4" x2="555.45" y2="456.4" stroke="#1a1a1a" stroke-width="0.9"/>
<line x1="555.45" y1="276.6" x2="555.45" y2="278.6" stroke="#1a1a1a" stroke-width="0.9"/>
<line x1="569.63" y1="458.4" x2="569.63" y2="456.4" stroke="#1a1a1a" stroke-width="0.9"/>
<line x1="569.63" y1="276.6" x2="569.63" y2="278.6" stroke="#1a1a1a" stroke-width="0.9"/>
<line x1="583.8" y1="458.4" x2="583.8" y2="454.8" stroke="#1a1a1a" stroke-width="0.9"/>
<line x1="583.8" y1="276.6" x2="583.8" y2="280.2" stroke="#1a1a1a" stroke-width="0.9"/>
<line x1="597.97" y1="458.4" x2="597.97" y2="456.4" stroke="#1a1a1a" stroke-width="0.9"/>
<line x1="597.97" y1="276.6" x2="597.97" y2="278.6" stroke="#1a1a1a" stroke-width="0.9"/>
<line x1="612.15" y1="458.4" x2="612.15" y2="456.4" stroke="#1a1a1a" stroke-width="0.9"/>
<line x1="612.15" y1="276.6" x2="612.15" y2="278.6" stroke="#1a1a1a" stroke-width="0.9"/>
<line x1="626.33" y1="458.4" x2="626.33" y2="456.4" stroke="#1a1a1a" stroke-width="0.9"/>
<line x1="626.33" y1="276.6" x2="626.33" y2="278.6" stroke="#1a1a1a" stroke-width="0.9"/>
<line x1="413.7" y1="451.13" x2="415.7" y2="451.13" stroke="#1a1a1a" stroke-width="0.9"/>
<line x1="640.5" y1="451.13" x2="638.5" y2="451.13" stroke="#1a1a1a" stroke-width="0.9"/>
<line x1="413.7" y1="443.86" x2="415.7" y2="443.86" stroke="#1a1a1a" stroke-width="0.9"/>
<line x1="640.5" y1="443.86" x2="638.5" y2="443.86" stroke="#1a1a1a" stroke-width="0.9"/>
<line x1="413.7" y1="436.58" x2="415.7" y2="436.58" stroke="#1a1a1a" stroke-width="0.9"/>
<line x1="640.5" y1="436.58" x2="638.5" y2="436.58" stroke="#1a1a1a" stroke-width="0.9"/>
<line x1="413.7" y1="429.31" x2="415.7" y2="429.31" stroke="#1a1a1a" stroke-width="0.9"/>
<line x1="640.5" y1="429.31" x2="638.5" y2="429.31" stroke="#1a1a1a" stroke-width="0.9"/>
<line x1="413.7" y1="422.04" x2="417.3" y2="422.04" stroke="#1a1a1a" stroke-width="0.9"/>
<line x1="640.5" y1="422.04" x2="636.9" y2="422.04" stroke="#1a1a1a" stroke-width="0.9"/>
<line x1="413.7" y1="414.77" x2="415.7" y2="414.77" stroke="#1a1a1a" stroke-width="0.9"/>
<line x1="640.5" y1="414.77" x2="638.5" y2="414.77" stroke="#1a1a1a" stroke-width="0.9"/>
<line x1="413.7" y1="407.5" x2="415.7" y2="407.5" stroke="#1a1a1a" stroke-width="0.9"/>
<line x1="640.5" y1="407.5" x2="638.5" y2="407.5" stroke="#1a1a1a" stroke-width="0.9"/>
<line x1="413.7" y1="400.22" x2="415.7" y2="400.22" stroke="#1a1a1a" stroke-width="0.9"/>
<line x1="640.5" y1="400.22" x2="638.5" y2="400.22" stroke="#1a1a1a" stroke-width="0.9"/>
<line x1="413.7" y1="392.95" x2="415.7" y2="392.95" stroke="#1a1a1a" stroke-width="0.9"/>
<line x1="640.5" y1="392.95" x2="638.5" y2="392.95" stroke="#1a1a1a" stroke-width="0.9"/>
<line x1="413.7" y1="385.68" x2="417.3" y2="385.68" stroke="#1a1a1a" stroke-width="0.9"/>
<line x1="640.5" y1="385.68" x2="636.9" y2="385.68" stroke="#1a1a1a" stroke-width="0.9"/>
<line x1="413.7" y1="378.41" x2="415.7" y2="378.41" stroke="#1a1a1a" stroke-width="0.9"/>
<line x1="640.5" y1="378.41" x2="638.5" y2="378.41" stroke="#1a1a1a" stroke-width="0.9"/>
<line x1="413.7" y1="371.14" x2="415.7" y2="371.14" stroke="#1a1a1a" stroke-width="0.9"/>
<line x1="640.5" y1="371.14" x2="638.5" y2="371.14" stroke="#1a1a1a" stroke-width="0.9"/>
<line x1="413.7" y1="363.86" x2="415.7" y2="363.86" stroke="#1a1a1a" stroke-width="0.9"/>
<line x1="640.5" y1="363.86" x2="638.5" y2="363.86" stroke="#1a1a1a" stroke-width="0.9"/>
<line x1="413.7" y1="356.59" x2="415.7" y2="356.59" stroke="#1a1a1a" stroke-width="0.9"/>
<line x1="640.5" y1="356.59" x2="638.5" y2="356.59" stroke="#1a1a1a" stroke-width="0.9"/>
<line x1="413.7" y1="349.32" x2="417.3" y2="349.32" stroke="#1a1a1a" stroke-width="0.9"/>
<line x1="640.5" y1="349.32" x2="636.9" y2="349.32" stroke="#1a1a1a" stroke-width="0.9"/>
<line x1="413.7" y1="342.05" x2="415.7" y2="342.05" stroke="#1a1a1a" stroke-width="0.9"/>
<line x1="640.5" y1="342.05" x2="638.5" y2="342.05" stroke="#1a1a1a" stroke-width="0.9"/>
<line x1="413.7" y1="334.78" x2="415.7" y2="334.78" stroke="#1a1a1a" stroke-width="0.9"/>
<line x1="640.5" y1="334.78" x2="638.5" y2="334.78" stroke="#1a1a1a" stroke-width="0.9"/>
<line x1="413.7" y1="327.5" x2="415.7" y2="327.5" stroke="#1a1a1a" stroke-width="0.9"/>
<line x1="640.5" y1="327.5" x2="638.5" y2="327.5" stroke="#1a1a1a" stroke-width="0.9"/>
<line x1="413.7" y1="320.23" x2="415.7" y2="320.23" stroke="#1a1a1a" stroke-width="0.9"/>
<line x1="640.5" y1="320.23" x2="638.5" y2="320.23" stroke="#1a1a1a" stroke-width="0.9"/>
<line x1="413.7" y1="312.96" x2="417.3" y2="312.96" stroke="#1a1a1a" stroke-width="0.9"/>
<line x1="640.5" y1="312.96" x2="636.9" y2="312.96" stroke="#1a1a1a" stroke-width="0.9"/>
<line x1="413.7" y1="305.69" x2="415.7" y2="305.69" stroke="#1a1a1a" stroke-width="0.9"/>
<line x1="640.5" y1="305.69" x2="638.5" y2="305.69" stroke="#1a1a1a" stroke-width="0.9"/>
<line x1="413.7" y1="298.42" x2="415.7" y2="298.42" stroke="#1a1a1a" stroke-width="0.9"/>
<line x1="640.5" y1="298.42" x2="638.5" y2="298.42" stroke="#1a1a1a" stroke-width="0.9"/>
<line x1="413.7" y1="291.14" x2="415.7" y2="291.14" stroke="#1a1a1a" stroke-width="0.9"/>
<line x1="640.5" y1="291.14" x2="638.5" y2="291.14" stroke="#1a1a1a" stroke-width="0.9"/>
<line x1="413.7" y1="283.87" x2="415.7" y2="283.87" stroke="#1a1a1a" stroke-width="0.9"/>
<line x1="640.5" y1="283.87" x2="638.5" y2="283.87" stroke="#1a1a1a" stroke-width="0.9"/>
<line x1="413" y1="458.8" x2="641.1" y2="458.8" stroke="#1a1a1a" stroke-width="1.1"/>
<line x1="413.1" y1="276.3" x2="641.1" y2="276.3" stroke="#1a1a1a" stroke-width="1.15"/>
<line x1="413.7" y1="275.7" x2="413.7" y2="459.3" stroke="#303030" stroke-width="1.4"/>
<line x1="640.5" y1="275.7" x2="640.5" y2="459.3" stroke="#1a1a1a" stroke-width="1.2"/>
<text x="409.1" y="462.3" font-size="14.4" text-anchor="end" fill="#000">0</text>
<text x="409.1" y="425.94" font-size="14.4" text-anchor="end" fill="#000">1</text>
<text x="409.1" y="389.58" font-size="14.4" text-anchor="end" fill="#000">2</text>
<text x="409.1" y="353.22" font-size="14.4" text-anchor="end" fill="#000">3</text>
<text x="409.1" y="316.86" font-size="14.4" text-anchor="end" fill="#000">4</text>
<text x="409.1" y="280.5" font-size="14.4" text-anchor="end" fill="#000">5</text>
<text x="442.05" y="474" font-size="14.4" text-anchor="middle" fill="#000">7</text>
<text x="512.93" y="474" font-size="14.4" text-anchor="middle" fill="#000">7.5</text>
<text x="583.8" y="474" font-size="14.4" text-anchor="middle" fill="#000">8</text>
<text x="526.8" y="488.1" font-size="14" text-anchor="middle" fill="#000" textLength="19.5" lengthAdjust="spacingAndGlyphs">pH</text>
<text x="371.1" y="367.4" font-size="14.4" text-anchor="middle" fill="#000" textLength="173.5" lengthAdjust="spacingAndGlyphs" transform="rotate(-90 371.1 367.4)">Average migration speed</text>
<text x="394.7" y="366.9" font-size="15" text-anchor="middle" transform="rotate(-90 394.7 366.9)" textLength="78.8" lengthAdjust="spacingAndGlyphs"><tspan font-style="italic">V</tspan> [µm/min]</text>
<text x="343.8" y="273.8" font-size="25.2" text-anchor="start" fill="#000" textLength="31.2" lengthAdjust="spacingAndGlyphs">(d)</text>
<text x="474.4" y="412.4" font-size="8.55" text-anchor="end" fill="#000">Control</text>
<circle cx="485.9" cy="408.8" r="2.25" fill="#000000"/>
<line x1="497.2" y1="408.8" x2="520.5" y2="408.8" stroke="#000000" stroke-width="1.1" stroke-dasharray="2.4,1.7"/>
<text x="524.6" y="412.6" font-size="8.8" textLength="111.5" lengthAdjust="spacingAndGlyphs">V = 1.14 pH - 6.16 (<tspan font-style="italic">R</tspan><tspan font-size="6.6" dy="-3.6">2</tspan><tspan dy="3.6"> = 0.95)</tspan></text>
<text x="474.4" y="426.35" font-size="8.55" text-anchor="end" fill="#000">fMLP</text>
<circle cx="485.9" cy="422.75" r="2.25" fill="#1432d2"/>
<line x1="497.2" y1="422.75" x2="520.5" y2="422.75" stroke="#30359e" stroke-width="1.1" stroke-dasharray="1,1.1"/>
<text x="524.6" y="426.55" font-size="8.8" textLength="111.5" lengthAdjust="spacingAndGlyphs">V = 0.96 pH - 4.24 (<tspan font-style="italic">R</tspan><tspan font-size="6.6" dy="-3.6">2</tspan><tspan dy="3.6"> = 0.89)</tspan></text>
<text x="474.4" y="440.3" font-size="8.55" text-anchor="end" fill="#000">Pyruvate</text>
<circle cx="485.9" cy="436.7" r="2.25" fill="#8c1010"/>
<line x1="497.2" y1="436.7" x2="520.5" y2="436.7" stroke="#8c1010" stroke-width="1.1" stroke-dasharray="5.4,2.3,1.2,2.3"/>
<text x="524.6" y="440.5" font-size="8.8" textLength="111.5" lengthAdjust="spacingAndGlyphs">V = 0.94 pH - 3.79 (<tspan font-style="italic">R</tspan><tspan font-size="6.6" dy="-3.6">2</tspan><tspan dy="3.6"> = 0.95)</tspan></text>
<text x="474.4" y="454.25" font-size="8.55" text-anchor="end" fill="#000">Cariporide</text>
<circle cx="485.9" cy="450.65" r="2.25" fill="#168c16"/>
<line x1="497.2" y1="450.65" x2="520.5" y2="450.65" stroke="#168c16" stroke-width="1.1" stroke-dasharray="3.2,2.6,1.2,2.6,1.2,2.6"/>
<text x="524.6" y="454.45" font-size="8.8" textLength="111.5" lengthAdjust="spacingAndGlyphs">V = 1.21 pH - 6.07 (<tspan font-style="italic">R</tspan><tspan font-size="6.6" dy="-3.6">2</tspan><tspan dy="3.6"> = 0.92)</tspan></text>
</svg></body></html>
